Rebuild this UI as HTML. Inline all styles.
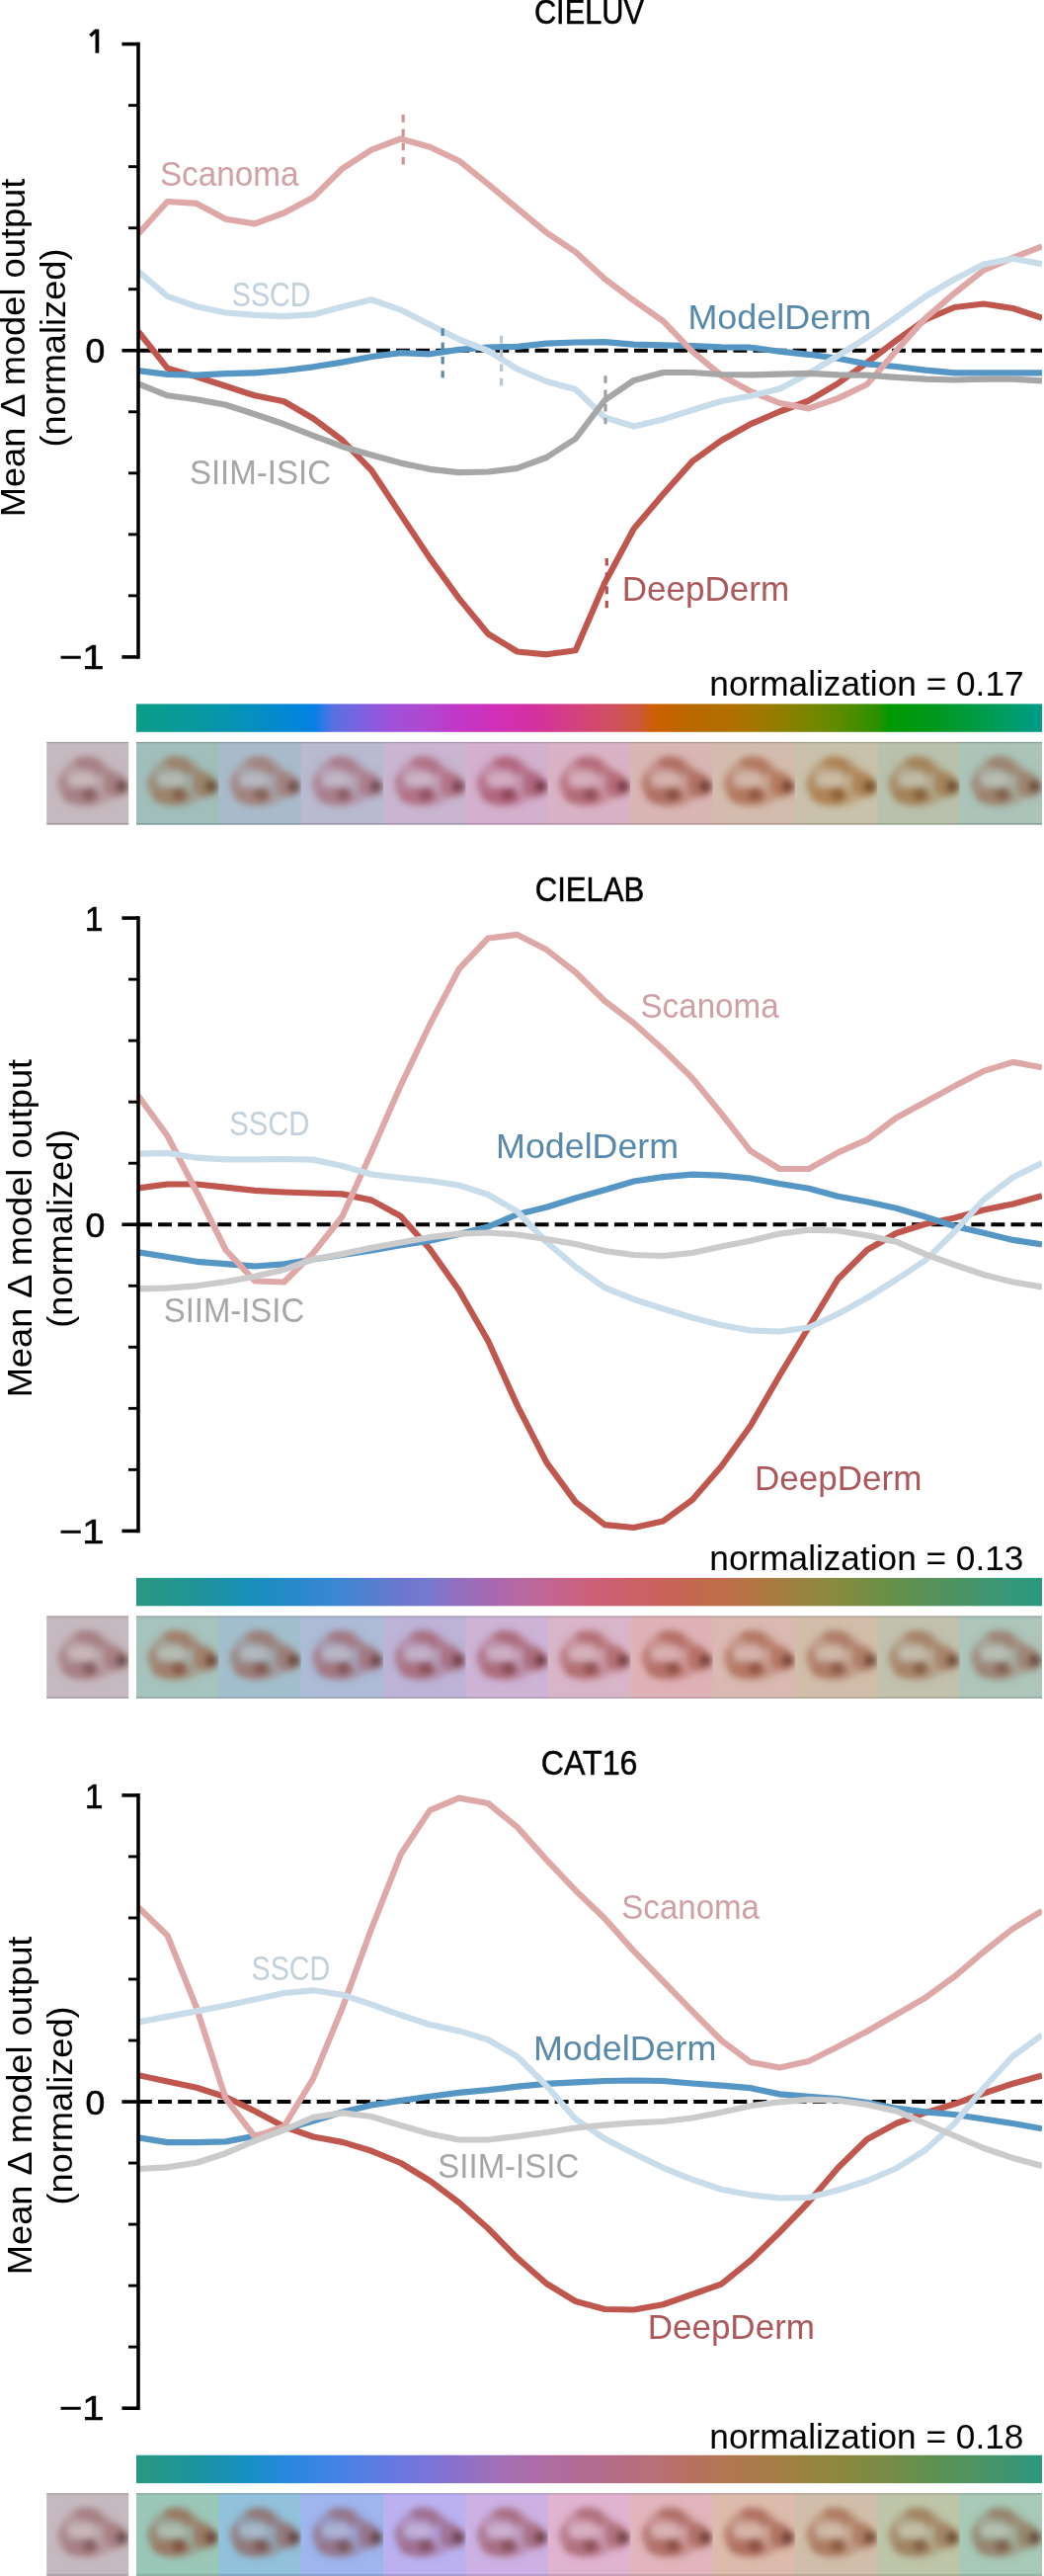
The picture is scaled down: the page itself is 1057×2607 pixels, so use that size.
<!DOCTYPE html>
<html><head><meta charset="utf-8"><style>
html,body{margin:0;padding:0;background:#fff;}
body{width:1057px;height:2607px;overflow:hidden;}
svg{display:block;will-change:transform;}
</style></head><body>
<svg width="1057" height="2607" viewBox="0 0 1057 2607" font-family='"Liberation Sans", sans-serif'>
<defs>
<filter id="bl" x="-20%" y="-20%" width="140%" height="140%"><feGaussianBlur stdDeviation="3.4"/></filter>
<filter id="bl2" x="-20%" y="-20%" width="140%" height="140%"><feGaussianBlur stdDeviation="1.6"/></filter>
<clipPath id="tc"><rect x="0" y="0" width="83" height="83.3"/></clipPath>
<clipPath id="pc"><rect x="140" y="0" width="915" height="2607"/></clipPath>
</defs>
<rect x="0" y="0" width="1057" height="2607" fill="#fff"/>
<defs><linearGradient id="g0" x1="138" y1="0" x2="1055" y2="0" gradientUnits="userSpaceOnUse">
<stop offset="0.0000" stop-color="#0c9c88"/>
<stop offset="0.0676" stop-color="#0898a0"/>
<stop offset="0.1221" stop-color="#0690bc"/>
<stop offset="0.1658" stop-color="#0488d4"/>
<stop offset="0.1963" stop-color="#0680e4"/>
<stop offset="0.2050" stop-color="#2a7ae6"/>
<stop offset="0.2181" stop-color="#5a70e0"/>
<stop offset="0.2508" stop-color="#8060e0"/>
<stop offset="0.2824" stop-color="#a050d8"/>
<stop offset="0.3184" stop-color="#b048d0"/>
<stop offset="0.3511" stop-color="#c038c8"/>
<stop offset="0.3948" stop-color="#d030b8"/>
<stop offset="0.4384" stop-color="#d430a0"/>
<stop offset="0.4820" stop-color="#d44080"/>
<stop offset="0.5256" stop-color="#d05060"/>
<stop offset="0.5562" stop-color="#cc5838"/>
<stop offset="0.5714" stop-color="#cc6000"/>
<stop offset="0.6129" stop-color="#b86800"/>
<stop offset="0.6565" stop-color="#b07000"/>
<stop offset="0.6892" stop-color="#a07800"/>
<stop offset="0.7219" stop-color="#888000"/>
<stop offset="0.7546" stop-color="#708800"/>
<stop offset="0.7874" stop-color="#508c00"/>
<stop offset="0.8201" stop-color="#289000"/>
<stop offset="0.8310" stop-color="#009800"/>
<stop offset="0.8855" stop-color="#009820"/>
<stop offset="0.9400" stop-color="#009c50"/>
<stop offset="1.0000" stop-color="#009c88"/>
</linearGradient></defs>
<text x="540.89" y="23.50" font-size="35" fill="#000" stroke="#000" stroke-width="0.5" textLength="111.10" lengthAdjust="spacingAndGlyphs">CIELUV</text>
<line x1="140.0" y1="354.75" x2="1055.0" y2="354.75" stroke="#000" stroke-width="3.9" stroke-dasharray="13.9 6.18"/>
<g clip-path="url(#pc)">
<polyline points="140.00,335.50 169.52,372.60 199.03,381.30 228.55,390.80 258.06,400.30 287.58,406.30 317.10,423.50 346.61,445.60 376.13,476.00 405.65,520.60 435.16,564.90 464.68,605.60 494.19,641.50 523.71,659.50 553.23,662.30 582.74,658.30 612.26,590.00 641.77,535.00 671.29,500.30 700.81,467.10 730.32,445.80 759.84,429.20 789.35,416.50 818.87,405.50 848.39,388.10 877.90,367.00 907.42,344.50 936.94,323.50 966.45,311.00 995.97,307.50 1025.48,312.00 1055.00,321.80" fill="none" stroke="#c0574f" stroke-width="6.2" stroke-linejoin="round" stroke-linecap="butt"/>
<polyline points="140.00,375.00 169.52,378.90 199.03,379.70 228.55,378.10 258.06,377.30 287.58,375.00 317.10,371.30 346.61,366.60 376.13,361.00 405.65,357.10 435.16,358.30 464.68,353.90 494.19,351.50 523.71,350.80 553.23,347.60 582.74,346.50 612.26,346.20 641.77,348.60 671.29,349.40 700.81,350.20 730.32,351.30 759.84,351.70 789.35,355.70 818.87,358.80 848.39,362.80 877.90,368.40 907.42,371.00 936.94,374.60 966.45,377.30 995.97,377.30 1025.48,377.30 1055.00,377.30" fill="none" stroke="#5596c4" stroke-width="6.2" stroke-linejoin="round" stroke-linecap="butt"/>
<polyline points="140.00,236.70 169.52,204.00 199.03,205.90 228.55,221.70 258.06,226.40 287.58,215.50 317.10,199.80 346.61,170.60 376.13,151.60 405.65,140.50 435.16,148.80 464.68,162.70 494.19,186.40 523.71,210.90 553.23,235.40 582.74,255.00 612.26,282.20 641.77,304.30 671.29,324.90 700.81,355.70 730.32,380.00 759.84,396.00 789.35,408.00 818.87,413.40 848.39,403.10 877.90,389.00 907.42,355.00 936.94,322.00 966.45,296.70 995.97,273.40 1025.48,260.90 1055.00,249.30" fill="none" stroke="#dfa8a8" stroke-width="6.2" stroke-linejoin="round" stroke-linecap="butt"/>
<polyline points="140.00,274.60 169.52,299.90 199.03,310.20 228.55,316.50 258.06,318.90 287.58,320.20 317.10,318.40 346.61,310.50 376.13,303.30 405.65,313.60 435.16,328.60 464.68,343.50 494.19,355.00 523.71,373.50 553.23,386.00 582.74,394.00 612.26,422.50 641.77,431.50 671.29,424.40 700.81,415.00 730.32,406.00 759.84,400.70 789.35,393.60 818.87,378.00 848.39,360.00 877.90,341.50 907.42,321.00 936.94,300.00 966.45,282.50 995.97,267.50 1025.48,261.80 1055.00,267.20" fill="none" stroke="#c9dcea" stroke-width="6.2" stroke-linejoin="round" stroke-linecap="butt"/>
<polyline points="140.00,388.40 169.52,400.30 199.03,404.20 228.55,409.80 258.06,419.20 287.58,429.30 317.10,440.80 346.61,451.90 376.13,460.50 405.65,468.60 435.16,474.80 464.68,478.20 494.19,477.50 523.71,473.80 553.23,463.00 582.74,444.00 612.26,405.00 641.77,384.90 671.29,377.00 700.81,377.00 730.32,379.00 759.84,379.40 789.35,378.60 818.87,377.80 848.39,379.40 877.90,379.60 907.42,381.80 936.94,383.60 966.45,384.50 995.97,383.60 1025.48,383.60 1055.00,385.40" fill="none" stroke="#a6a6a6" stroke-width="6.2" stroke-linejoin="round" stroke-linecap="butt"/>
</g>
<line x1="140" y1="42.80" x2="140" y2="666.70" stroke="#000" stroke-width="3.6"/>
<line x1="123.4" y1="44.60" x2="140" y2="44.60" stroke="#000" stroke-width="3.6"/>
<line x1="123.4" y1="354.75" x2="140" y2="354.75" stroke="#000" stroke-width="3.6"/>
<line x1="123.4" y1="664.90" x2="140" y2="664.90" stroke="#000" stroke-width="3.6"/>
<line x1="130" y1="292.72" x2="140" y2="292.72" stroke="#000" stroke-width="2.9"/>
<line x1="130" y1="230.69" x2="140" y2="230.69" stroke="#000" stroke-width="2.9"/>
<line x1="130" y1="168.66" x2="140" y2="168.66" stroke="#000" stroke-width="2.9"/>
<line x1="130" y1="106.63" x2="140" y2="106.63" stroke="#000" stroke-width="2.9"/>
<line x1="130" y1="416.78" x2="140" y2="416.78" stroke="#000" stroke-width="2.9"/>
<line x1="130" y1="478.81" x2="140" y2="478.81" stroke="#000" stroke-width="2.9"/>
<line x1="130" y1="540.84" x2="140" y2="540.84" stroke="#000" stroke-width="2.9"/>
<line x1="130" y1="602.87" x2="140" y2="602.87" stroke="#000" stroke-width="2.9"/>
<path d="M98.4,29.6 V53.7" stroke="#000" stroke-width="3.8" fill="none"/>
<path d="M91.4,36.2 L97.6,30.6" stroke="#000" stroke-width="3.4" fill="none"/>
<text x="86.51" y="367.20" font-size="35" fill="#000" stroke="#000" stroke-width="0.6" textLength="19.78" lengthAdjust="spacingAndGlyphs">0</text>
<text x="59.83" y="677.00" font-size="35" fill="#000" stroke="#000" stroke-width="0.6" textLength="45.52" lengthAdjust="spacingAndGlyphs">−1</text>
<text transform="rotate(-90)" x="-523.26" y="25.30" font-size="35" fill="#000" textLength="342.52" lengthAdjust="spacingAndGlyphs">Mean Δ model output</text>
<text transform="rotate(-90)" x="-452.64" y="66.30" font-size="35" fill="#000" textLength="201.09" lengthAdjust="spacingAndGlyphs">(normalized)</text>
<text x="718.36" y="704.00" font-size="35" fill="#000" stroke="#000" stroke-width="0" textLength="318.21" lengthAdjust="spacingAndGlyphs">normalization = 0.17</text>
<rect x="138" y="712.40" width="917" height="28.4" fill="url(#g0)"/>
<svg x="47.20" y="750.90" width="83.00" height="83.3" viewBox="0 0 83.00 83.3" overflow="hidden">
<rect x="0" y="0" width="84.00" height="84" fill="#c5b9bf"/>
<g filter="url(#bl)">
<path d="M12,44 C10,32 22,18 34,15 C46,12 58,16 64,26 C74,30 84,38 84,46 C84,54 76,58 66,57 C58,64 46,67 34,65 C20,63 13,55 12,44 Z" fill="#9e6f72" opacity="0.38"/>
<ellipse cx="41" cy="21" rx="13" ry="6" transform="rotate(6 41 21)" fill="#9e6f72" opacity="0.62"/>
<ellipse cx="51" cy="28" rx="4" ry="7" fill="#9e6f72" opacity="0.45"/>
<ellipse cx="35" cy="55" rx="19" ry="8.5" fill="#9e6f72" opacity="0.62"/>
<ellipse cx="68" cy="43" rx="11" ry="12" fill="#9e6f72" opacity="0.6"/>
<ellipse cx="17" cy="43" rx="6" ry="10" fill="#9e6f72" opacity="0.4"/>
<ellipse cx="58" cy="30" rx="7" ry="4.5" transform="rotate(35 58 30)" fill="#9e6f72" opacity="0.5"/>
<ellipse cx="43" cy="53" rx="7" ry="6.5" fill="#815b5d" opacity="0.85"/>
<ellipse cx="76" cy="45" rx="6.5" ry="6.5" fill="#6b4b4d" opacity="0.9"/>
<ellipse cx="36" cy="38" rx="15" ry="6.5" fill="#dfd8db" opacity="0.45"/>
<ellipse cx="55" cy="40" rx="2.5" ry="10" fill="#c5b9bf" opacity="0.4"/>
</g>
<rect x="0" y="0" width="84.00" height="1.2" fill="#000" opacity="0.18"/>
<rect x="0" y="82.1" width="84.00" height="1.2" fill="#000" opacity="0.18"/>
</svg>
<svg x="138.00" y="750.90" width="83.96" height="83.3" viewBox="0 0 83.96 83.3" overflow="hidden">
<rect x="0" y="0" width="84.96" height="84" fill="#a1bebb"/>
<g filter="url(#bl)">
<path d="M12,44 C10,32 22,18 34,15 C46,12 58,16 64,26 C74,30 84,38 84,46 C84,54 76,58 66,57 C58,64 46,67 34,65 C20,63 13,55 12,44 Z" fill="#9a7154" opacity="0.38"/>
<ellipse cx="41" cy="21" rx="13" ry="6" transform="rotate(6 41 21)" fill="#9a7154" opacity="0.62"/>
<ellipse cx="51" cy="28" rx="4" ry="7" fill="#9a7154" opacity="0.45"/>
<ellipse cx="35" cy="55" rx="19" ry="8.5" fill="#9a7154" opacity="0.62"/>
<ellipse cx="68" cy="43" rx="11" ry="12" fill="#9a7154" opacity="0.6"/>
<ellipse cx="17" cy="43" rx="6" ry="10" fill="#9a7154" opacity="0.4"/>
<ellipse cx="58" cy="30" rx="7" ry="4.5" transform="rotate(35 58 30)" fill="#9a7154" opacity="0.5"/>
<ellipse cx="43" cy="53" rx="7" ry="6.5" fill="#7e5c44" opacity="0.85"/>
<ellipse cx="76" cy="45" rx="6.5" ry="6.5" fill="#684c39" opacity="0.9"/>
<ellipse cx="36" cy="38" rx="15" ry="6.5" fill="#cbdbd9" opacity="0.45"/>
<ellipse cx="55" cy="40" rx="2.5" ry="10" fill="#a1bebb" opacity="0.4"/>
</g>
<rect x="0" y="0" width="84.96" height="1.2" fill="#000" opacity="0.18"/>
<rect x="0" y="82.1" width="84.96" height="1.2" fill="#000" opacity="0.18"/>
</svg>
<svg x="221.36" y="750.90" width="83.96" height="83.3" viewBox="0 0 83.96 83.3" overflow="hidden">
<rect x="0" y="0" width="84.96" height="84" fill="#a9bbcb"/>
<g filter="url(#bl)">
<path d="M12,44 C10,32 22,18 34,15 C46,12 58,16 64,26 C74,30 84,38 84,46 C84,54 76,58 66,57 C58,64 46,67 34,65 C20,63 13,55 12,44 Z" fill="#a07267" opacity="0.38"/>
<ellipse cx="41" cy="21" rx="13" ry="6" transform="rotate(6 41 21)" fill="#a07267" opacity="0.62"/>
<ellipse cx="51" cy="28" rx="4" ry="7" fill="#a07267" opacity="0.45"/>
<ellipse cx="35" cy="55" rx="19" ry="8.5" fill="#a07267" opacity="0.62"/>
<ellipse cx="68" cy="43" rx="11" ry="12" fill="#a07267" opacity="0.6"/>
<ellipse cx="17" cy="43" rx="6" ry="10" fill="#a07267" opacity="0.4"/>
<ellipse cx="58" cy="30" rx="7" ry="4.5" transform="rotate(35 58 30)" fill="#a07267" opacity="0.5"/>
<ellipse cx="43" cy="53" rx="7" ry="6.5" fill="#835d54" opacity="0.85"/>
<ellipse cx="76" cy="45" rx="6.5" ry="6.5" fill="#6c4d46" opacity="0.9"/>
<ellipse cx="36" cy="38" rx="15" ry="6.5" fill="#cfd9e2" opacity="0.45"/>
<ellipse cx="55" cy="40" rx="2.5" ry="10" fill="#a9bbcb" opacity="0.4"/>
</g>
<rect x="0" y="0" width="84.96" height="1.2" fill="#000" opacity="0.18"/>
<rect x="0" y="82.1" width="84.96" height="1.2" fill="#000" opacity="0.18"/>
</svg>
<svg x="304.73" y="750.90" width="83.96" height="83.3" viewBox="0 0 83.96 83.3" overflow="hidden">
<rect x="0" y="0" width="84.96" height="84" fill="#b9b9cf"/>
<g filter="url(#bl)">
<path d="M12,44 C10,32 22,18 34,15 C46,12 58,16 64,26 C74,30 84,38 84,46 C84,54 76,58 66,57 C58,64 46,67 34,65 C20,63 13,55 12,44 Z" fill="#a76c78" opacity="0.38"/>
<ellipse cx="41" cy="21" rx="13" ry="6" transform="rotate(6 41 21)" fill="#a76c78" opacity="0.62"/>
<ellipse cx="51" cy="28" rx="4" ry="7" fill="#a76c78" opacity="0.45"/>
<ellipse cx="35" cy="55" rx="19" ry="8.5" fill="#a76c78" opacity="0.62"/>
<ellipse cx="68" cy="43" rx="11" ry="12" fill="#a76c78" opacity="0.6"/>
<ellipse cx="17" cy="43" rx="6" ry="10" fill="#a76c78" opacity="0.4"/>
<ellipse cx="58" cy="30" rx="7" ry="4.5" transform="rotate(35 58 30)" fill="#a76c78" opacity="0.5"/>
<ellipse cx="43" cy="53" rx="7" ry="6.5" fill="#885862" opacity="0.85"/>
<ellipse cx="76" cy="45" rx="6.5" ry="6.5" fill="#714951" opacity="0.9"/>
<ellipse cx="36" cy="38" rx="15" ry="6.5" fill="#d8d8e4" opacity="0.45"/>
<ellipse cx="55" cy="40" rx="2.5" ry="10" fill="#b9b9cf" opacity="0.4"/>
</g>
<rect x="0" y="0" width="84.96" height="1.2" fill="#000" opacity="0.18"/>
<rect x="0" y="82.1" width="84.96" height="1.2" fill="#000" opacity="0.18"/>
</svg>
<svg x="388.09" y="750.90" width="83.96" height="83.3" viewBox="0 0 83.96 83.3" overflow="hidden">
<rect x="0" y="0" width="84.96" height="84" fill="#c9b5d0"/>
<g filter="url(#bl)">
<path d="M12,44 C10,32 22,18 34,15 C46,12 58,16 64,26 C74,30 84,38 84,46 C84,54 76,58 66,57 C58,64 46,67 34,65 C20,63 13,55 12,44 Z" fill="#ab5f71" opacity="0.38"/>
<ellipse cx="41" cy="21" rx="13" ry="6" transform="rotate(6 41 21)" fill="#ab5f71" opacity="0.62"/>
<ellipse cx="51" cy="28" rx="4" ry="7" fill="#ab5f71" opacity="0.45"/>
<ellipse cx="35" cy="55" rx="19" ry="8.5" fill="#ab5f71" opacity="0.62"/>
<ellipse cx="68" cy="43" rx="11" ry="12" fill="#ab5f71" opacity="0.6"/>
<ellipse cx="17" cy="43" rx="6" ry="10" fill="#ab5f71" opacity="0.4"/>
<ellipse cx="58" cy="30" rx="7" ry="4.5" transform="rotate(35 58 30)" fill="#ab5f71" opacity="0.5"/>
<ellipse cx="43" cy="53" rx="7" ry="6.5" fill="#8c4d5c" opacity="0.85"/>
<ellipse cx="76" cy="45" rx="6.5" ry="6.5" fill="#74404c" opacity="0.9"/>
<ellipse cx="36" cy="38" rx="15" ry="6.5" fill="#e1d6e5" opacity="0.45"/>
<ellipse cx="55" cy="40" rx="2.5" ry="10" fill="#c9b5d0" opacity="0.4"/>
</g>
<rect x="0" y="0" width="84.96" height="1.2" fill="#000" opacity="0.18"/>
<rect x="0" y="82.1" width="84.96" height="1.2" fill="#000" opacity="0.18"/>
</svg>
<svg x="471.45" y="750.90" width="83.96" height="83.3" viewBox="0 0 83.96 83.3" overflow="hidden">
<rect x="0" y="0" width="84.96" height="84" fill="#d3b0cd"/>
<g filter="url(#bl)">
<path d="M12,44 C10,32 22,18 34,15 C46,12 58,16 64,26 C74,30 84,38 84,46 C84,54 76,58 66,57 C58,64 46,67 34,65 C20,63 13,55 12,44 Z" fill="#a95169" opacity="0.38"/>
<ellipse cx="41" cy="21" rx="13" ry="6" transform="rotate(6 41 21)" fill="#a95169" opacity="0.62"/>
<ellipse cx="51" cy="28" rx="4" ry="7" fill="#a95169" opacity="0.45"/>
<ellipse cx="35" cy="55" rx="19" ry="8.5" fill="#a95169" opacity="0.62"/>
<ellipse cx="68" cy="43" rx="11" ry="12" fill="#a95169" opacity="0.6"/>
<ellipse cx="17" cy="43" rx="6" ry="10" fill="#a95169" opacity="0.4"/>
<ellipse cx="58" cy="30" rx="7" ry="4.5" transform="rotate(35 58 30)" fill="#a95169" opacity="0.5"/>
<ellipse cx="43" cy="53" rx="7" ry="6.5" fill="#8a4256" opacity="0.85"/>
<ellipse cx="76" cy="45" rx="6.5" ry="6.5" fill="#723747" opacity="0.9"/>
<ellipse cx="36" cy="38" rx="15" ry="6.5" fill="#e6d3e3" opacity="0.45"/>
<ellipse cx="55" cy="40" rx="2.5" ry="10" fill="#d3b0cd" opacity="0.4"/>
</g>
<rect x="0" y="0" width="84.96" height="1.2" fill="#000" opacity="0.18"/>
<rect x="0" y="82.1" width="84.96" height="1.2" fill="#000" opacity="0.18"/>
</svg>
<svg x="554.82" y="750.90" width="83.96" height="83.3" viewBox="0 0 83.96 83.3" overflow="hidden">
<rect x="0" y="0" width="84.96" height="84" fill="#d9b3c5"/>
<g filter="url(#bl)">
<path d="M12,44 C10,32 22,18 34,15 C46,12 58,16 64,26 C74,30 84,38 84,46 C84,54 76,58 66,57 C58,64 46,67 34,65 C20,63 13,55 12,44 Z" fill="#aa5864" opacity="0.38"/>
<ellipse cx="41" cy="21" rx="13" ry="6" transform="rotate(6 41 21)" fill="#aa5864" opacity="0.62"/>
<ellipse cx="51" cy="28" rx="4" ry="7" fill="#aa5864" opacity="0.45"/>
<ellipse cx="35" cy="55" rx="19" ry="8.5" fill="#aa5864" opacity="0.62"/>
<ellipse cx="68" cy="43" rx="11" ry="12" fill="#aa5864" opacity="0.6"/>
<ellipse cx="17" cy="43" rx="6" ry="10" fill="#aa5864" opacity="0.4"/>
<ellipse cx="58" cy="30" rx="7" ry="4.5" transform="rotate(35 58 30)" fill="#aa5864" opacity="0.5"/>
<ellipse cx="43" cy="53" rx="7" ry="6.5" fill="#8b4852" opacity="0.85"/>
<ellipse cx="76" cy="45" rx="6.5" ry="6.5" fill="#733b44" opacity="0.9"/>
<ellipse cx="36" cy="38" rx="15" ry="6.5" fill="#ead5df" opacity="0.45"/>
<ellipse cx="55" cy="40" rx="2.5" ry="10" fill="#d9b3c5" opacity="0.4"/>
</g>
<rect x="0" y="0" width="84.96" height="1.2" fill="#000" opacity="0.18"/>
<rect x="0" y="82.1" width="84.96" height="1.2" fill="#000" opacity="0.18"/>
</svg>
<svg x="638.18" y="750.90" width="83.96" height="83.3" viewBox="0 0 83.96 83.3" overflow="hidden">
<rect x="0" y="0" width="84.96" height="84" fill="#d9b5b3"/>
<g filter="url(#bl)">
<path d="M12,44 C10,32 22,18 34,15 C46,12 58,16 64,26 C74,30 84,38 84,46 C84,54 76,58 66,57 C58,64 46,67 34,65 C20,63 13,55 12,44 Z" fill="#a35d4c" opacity="0.38"/>
<ellipse cx="41" cy="21" rx="13" ry="6" transform="rotate(6 41 21)" fill="#a35d4c" opacity="0.62"/>
<ellipse cx="51" cy="28" rx="4" ry="7" fill="#a35d4c" opacity="0.45"/>
<ellipse cx="35" cy="55" rx="19" ry="8.5" fill="#a35d4c" opacity="0.62"/>
<ellipse cx="68" cy="43" rx="11" ry="12" fill="#a35d4c" opacity="0.6"/>
<ellipse cx="17" cy="43" rx="6" ry="10" fill="#a35d4c" opacity="0.4"/>
<ellipse cx="58" cy="30" rx="7" ry="4.5" transform="rotate(35 58 30)" fill="#a35d4c" opacity="0.5"/>
<ellipse cx="43" cy="53" rx="7" ry="6.5" fill="#854c3e" opacity="0.85"/>
<ellipse cx="76" cy="45" rx="6.5" ry="6.5" fill="#6e3f33" opacity="0.9"/>
<ellipse cx="36" cy="38" rx="15" ry="6.5" fill="#ead6d5" opacity="0.45"/>
<ellipse cx="55" cy="40" rx="2.5" ry="10" fill="#d9b5b3" opacity="0.4"/>
</g>
<rect x="0" y="0" width="84.96" height="1.2" fill="#000" opacity="0.18"/>
<rect x="0" y="82.1" width="84.96" height="1.2" fill="#000" opacity="0.18"/>
</svg>
<svg x="721.55" y="750.90" width="83.96" height="83.3" viewBox="0 0 83.96 83.3" overflow="hidden">
<rect x="0" y="0" width="84.96" height="84" fill="#d3bcae"/>
<g filter="url(#bl)">
<path d="M12,44 C10,32 22,18 34,15 C46,12 58,16 64,26 C74,30 84,38 84,46 C84,54 76,58 66,57 C58,64 46,67 34,65 C20,63 13,55 12,44 Z" fill="#ab6548" opacity="0.38"/>
<ellipse cx="41" cy="21" rx="13" ry="6" transform="rotate(6 41 21)" fill="#ab6548" opacity="0.62"/>
<ellipse cx="51" cy="28" rx="4" ry="7" fill="#ab6548" opacity="0.45"/>
<ellipse cx="35" cy="55" rx="19" ry="8.5" fill="#ab6548" opacity="0.62"/>
<ellipse cx="68" cy="43" rx="11" ry="12" fill="#ab6548" opacity="0.6"/>
<ellipse cx="17" cy="43" rx="6" ry="10" fill="#ab6548" opacity="0.4"/>
<ellipse cx="58" cy="30" rx="7" ry="4.5" transform="rotate(35 58 30)" fill="#ab6548" opacity="0.5"/>
<ellipse cx="43" cy="53" rx="7" ry="6.5" fill="#8c523b" opacity="0.85"/>
<ellipse cx="76" cy="45" rx="6.5" ry="6.5" fill="#744430" opacity="0.9"/>
<ellipse cx="36" cy="38" rx="15" ry="6.5" fill="#e6dad2" opacity="0.45"/>
<ellipse cx="55" cy="40" rx="2.5" ry="10" fill="#d3bcae" opacity="0.4"/>
</g>
<rect x="0" y="0" width="84.96" height="1.2" fill="#000" opacity="0.18"/>
<rect x="0" y="82.1" width="84.96" height="1.2" fill="#000" opacity="0.18"/>
</svg>
<svg x="804.91" y="750.90" width="83.96" height="83.3" viewBox="0 0 83.96 83.3" overflow="hidden">
<rect x="0" y="0" width="84.96" height="84" fill="#c9c1ab"/>
<g filter="url(#bl)">
<path d="M12,44 C10,32 22,18 34,15 C46,12 58,16 64,26 C74,30 84,38 84,46 C84,54 76,58 66,57 C58,64 46,67 34,65 C20,63 13,55 12,44 Z" fill="#a6713d" opacity="0.38"/>
<ellipse cx="41" cy="21" rx="13" ry="6" transform="rotate(6 41 21)" fill="#a6713d" opacity="0.62"/>
<ellipse cx="51" cy="28" rx="4" ry="7" fill="#a6713d" opacity="0.45"/>
<ellipse cx="35" cy="55" rx="19" ry="8.5" fill="#a6713d" opacity="0.62"/>
<ellipse cx="68" cy="43" rx="11" ry="12" fill="#a6713d" opacity="0.6"/>
<ellipse cx="17" cy="43" rx="6" ry="10" fill="#a6713d" opacity="0.4"/>
<ellipse cx="58" cy="30" rx="7" ry="4.5" transform="rotate(35 58 30)" fill="#a6713d" opacity="0.5"/>
<ellipse cx="43" cy="53" rx="7" ry="6.5" fill="#885c32" opacity="0.85"/>
<ellipse cx="76" cy="45" rx="6.5" ry="6.5" fill="#704c29" opacity="0.9"/>
<ellipse cx="36" cy="38" rx="15" ry="6.5" fill="#e1dcd0" opacity="0.45"/>
<ellipse cx="55" cy="40" rx="2.5" ry="10" fill="#c9c1ab" opacity="0.4"/>
</g>
<rect x="0" y="0" width="84.96" height="1.2" fill="#000" opacity="0.18"/>
<rect x="0" y="82.1" width="84.96" height="1.2" fill="#000" opacity="0.18"/>
</svg>
<svg x="888.27" y="750.90" width="83.96" height="83.3" viewBox="0 0 83.96 83.3" overflow="hidden">
<rect x="0" y="0" width="84.96" height="84" fill="#b9c1ad"/>
<g filter="url(#bl)">
<path d="M12,44 C10,32 22,18 34,15 C46,12 58,16 64,26 C74,30 84,38 84,46 C84,54 76,58 66,57 C58,64 46,67 34,65 C20,63 13,55 12,44 Z" fill="#9f7142" opacity="0.38"/>
<ellipse cx="41" cy="21" rx="13" ry="6" transform="rotate(6 41 21)" fill="#9f7142" opacity="0.62"/>
<ellipse cx="51" cy="28" rx="4" ry="7" fill="#9f7142" opacity="0.45"/>
<ellipse cx="35" cy="55" rx="19" ry="8.5" fill="#9f7142" opacity="0.62"/>
<ellipse cx="68" cy="43" rx="11" ry="12" fill="#9f7142" opacity="0.6"/>
<ellipse cx="17" cy="43" rx="6" ry="10" fill="#9f7142" opacity="0.4"/>
<ellipse cx="58" cy="30" rx="7" ry="4.5" transform="rotate(35 58 30)" fill="#9f7142" opacity="0.5"/>
<ellipse cx="43" cy="53" rx="7" ry="6.5" fill="#825c36" opacity="0.85"/>
<ellipse cx="76" cy="45" rx="6.5" ry="6.5" fill="#6c4c2c" opacity="0.9"/>
<ellipse cx="36" cy="38" rx="15" ry="6.5" fill="#d8dcd1" opacity="0.45"/>
<ellipse cx="55" cy="40" rx="2.5" ry="10" fill="#b9c1ad" opacity="0.4"/>
</g>
<rect x="0" y="0" width="84.96" height="1.2" fill="#000" opacity="0.18"/>
<rect x="0" y="82.1" width="84.96" height="1.2" fill="#000" opacity="0.18"/>
</svg>
<svg x="971.64" y="750.90" width="83.36" height="83.3" viewBox="0 0 83.36 83.3" overflow="hidden">
<rect x="0" y="0" width="84.36" height="84" fill="#abc3b9"/>
<g filter="url(#bl)">
<path d="M12,44 C10,32 22,18 34,15 C46,12 58,16 64,26 C74,30 84,38 84,46 C84,54 76,58 66,57 C58,64 46,67 34,65 C20,63 13,55 12,44 Z" fill="#9a715a" opacity="0.38"/>
<ellipse cx="41" cy="21" rx="13" ry="6" transform="rotate(6 41 21)" fill="#9a715a" opacity="0.62"/>
<ellipse cx="51" cy="28" rx="4" ry="7" fill="#9a715a" opacity="0.45"/>
<ellipse cx="35" cy="55" rx="19" ry="8.5" fill="#9a715a" opacity="0.62"/>
<ellipse cx="68" cy="43" rx="11" ry="12" fill="#9a715a" opacity="0.6"/>
<ellipse cx="17" cy="43" rx="6" ry="10" fill="#9a715a" opacity="0.4"/>
<ellipse cx="58" cy="30" rx="7" ry="4.5" transform="rotate(35 58 30)" fill="#9a715a" opacity="0.5"/>
<ellipse cx="43" cy="53" rx="7" ry="6.5" fill="#7e5c49" opacity="0.85"/>
<ellipse cx="76" cy="45" rx="6.5" ry="6.5" fill="#684c3d" opacity="0.9"/>
<ellipse cx="36" cy="38" rx="15" ry="6.5" fill="#d0ded8" opacity="0.45"/>
<ellipse cx="55" cy="40" rx="2.5" ry="10" fill="#abc3b9" opacity="0.4"/>
</g>
<rect x="0" y="0" width="84.36" height="1.2" fill="#000" opacity="0.18"/>
<rect x="0" y="82.1" width="84.36" height="1.2" fill="#000" opacity="0.18"/>
</svg>
<defs><linearGradient id="g1" x1="138" y1="0" x2="1055" y2="0" gradientUnits="userSpaceOnUse">
<stop offset="0.0000" stop-color="#2a9880"/>
<stop offset="0.0676" stop-color="#209498"/>
<stop offset="0.1221" stop-color="#1890b8"/>
<stop offset="0.1767" stop-color="#2888cc"/>
<stop offset="0.2148" stop-color="#3888d4"/>
<stop offset="0.2530" stop-color="#5080d0"/>
<stop offset="0.2857" stop-color="#6878cc"/>
<stop offset="0.3239" stop-color="#7878d0"/>
<stop offset="0.3511" stop-color="#9070c0"/>
<stop offset="0.3948" stop-color="#a868b0"/>
<stop offset="0.4275" stop-color="#b868a0"/>
<stop offset="0.4602" stop-color="#c46490"/>
<stop offset="0.5038" stop-color="#cc6078"/>
<stop offset="0.5474" stop-color="#cc6068"/>
<stop offset="0.5911" stop-color="#c86458"/>
<stop offset="0.6347" stop-color="#c06c48"/>
<stop offset="0.6619" stop-color="#bc7048"/>
<stop offset="0.6892" stop-color="#b07840"/>
<stop offset="0.7219" stop-color="#a08040"/>
<stop offset="0.7546" stop-color="#908840"/>
<stop offset="0.7874" stop-color="#808c40"/>
<stop offset="0.8310" stop-color="#689048"/>
<stop offset="0.8746" stop-color="#589058"/>
<stop offset="0.9182" stop-color="#489468"/>
<stop offset="0.9618" stop-color="#389878"/>
<stop offset="1.0000" stop-color="#2a9880"/>
</linearGradient></defs>
<text x="541.67" y="911.55" font-size="35" fill="#000" stroke="#000" stroke-width="0.5" textLength="110.72" lengthAdjust="spacingAndGlyphs">CIELAB</text>
<line x1="140.0" y1="1239.25" x2="1055.0" y2="1239.25" stroke="#000" stroke-width="3.9" stroke-dasharray="13.9 6.18"/>
<g clip-path="url(#pc)">
<polyline points="140.00,1202.50 169.52,1198.50 199.03,1198.50 228.55,1201.70 258.06,1204.90 287.58,1206.50 317.10,1207.50 346.61,1208.40 376.13,1214.60 405.65,1230.70 435.16,1264.00 464.68,1305.70 494.19,1357.00 523.71,1422.40 553.23,1479.90 582.74,1520.10 612.26,1543.10 641.77,1546.00 671.29,1539.50 700.81,1518.00 730.32,1484.00 759.84,1443.00 789.35,1392.00 818.87,1343.00 848.39,1294.50 877.90,1265.00 907.42,1248.00 936.94,1238.80 966.45,1232.50 995.97,1224.50 1025.48,1218.50 1055.00,1210.20" fill="none" stroke="#c0574f" stroke-width="6.2" stroke-linejoin="round" stroke-linecap="butt"/>
<polyline points="140.00,1267.30 169.52,1272.00 199.03,1276.80 228.55,1279.10 258.06,1281.50 287.58,1279.40 317.10,1274.50 346.61,1270.00 376.13,1265.50 405.65,1260.20 435.16,1255.70 464.68,1249.00 494.19,1241.50 523.71,1229.00 553.23,1221.80 582.74,1212.50 612.26,1204.20 641.77,1195.50 671.29,1191.10 700.81,1188.70 730.32,1189.70 759.84,1192.50 789.35,1198.00 818.87,1202.80 848.39,1210.70 877.90,1216.20 907.42,1222.70 936.94,1231.50 966.45,1241.00 995.97,1247.80 1025.48,1254.90 1055.00,1259.40" fill="none" stroke="#5596c4" stroke-width="6.2" stroke-linejoin="round" stroke-linecap="butt"/>
<polyline points="140.00,1109.00 169.52,1149.50 199.03,1206.00 228.55,1265.00 258.06,1296.50 287.58,1297.50 317.10,1268.20 346.61,1231.00 376.13,1166.00 405.65,1098.60 435.16,1037.00 464.68,980.70 494.19,949.50 523.71,945.90 553.23,961.10 582.74,984.00 612.26,1013.00 641.77,1035.50 671.29,1062.00 700.81,1091.00 730.32,1127.00 759.84,1164.90 789.35,1183.00 818.87,1183.00 848.39,1166.40 877.90,1153.40 907.42,1131.30 936.94,1115.20 966.45,1099.10 995.97,1083.90 1025.48,1074.90 1055.00,1080.30" fill="none" stroke="#dfa8a8" stroke-width="6.2" stroke-linejoin="round" stroke-linecap="butt"/>
<polyline points="140.00,1167.70 169.52,1166.90 199.03,1171.70 228.55,1173.30 258.06,1173.30 287.58,1173.00 317.10,1173.60 346.61,1180.00 376.13,1188.50 405.65,1192.00 435.16,1195.00 464.68,1199.50 494.19,1209.00 523.71,1226.00 553.23,1257.00 582.74,1282.00 612.26,1303.20 641.77,1315.00 671.29,1324.50 700.81,1333.50 730.32,1341.00 759.84,1346.50 789.35,1347.50 818.87,1343.50 848.39,1329.70 877.90,1313.50 907.42,1295.00 936.94,1275.50 966.45,1246.50 995.97,1214.00 1025.48,1191.50 1055.00,1177.00" fill="none" stroke="#c9dcea" stroke-width="6.2" stroke-linejoin="round" stroke-linecap="butt"/>
<polyline points="140.00,1304.40 169.52,1303.60 199.03,1301.30 228.55,1297.30 258.06,1291.80 287.58,1284.90 317.10,1274.50 346.61,1269.10 376.13,1262.90 405.65,1257.50 435.16,1252.10 464.68,1248.60 494.19,1247.50 523.71,1249.50 553.23,1254.00 582.74,1259.00 612.26,1266.00 641.77,1270.00 671.29,1271.00 700.81,1268.00 730.32,1261.50 759.84,1255.70 789.35,1248.60 818.87,1244.70 848.39,1245.50 877.90,1250.30 907.42,1256.70 936.94,1269.30 966.45,1280.00 995.97,1290.00 1025.48,1297.50 1055.00,1302.50" fill="none" stroke="#cbcbcb" stroke-width="6.2" stroke-linejoin="round" stroke-linecap="butt"/>
</g>
<line x1="140" y1="927.30" x2="140" y2="1551.20" stroke="#000" stroke-width="3.6"/>
<line x1="123.4" y1="929.10" x2="140" y2="929.10" stroke="#000" stroke-width="3.6"/>
<line x1="123.4" y1="1239.25" x2="140" y2="1239.25" stroke="#000" stroke-width="3.6"/>
<line x1="123.4" y1="1549.40" x2="140" y2="1549.40" stroke="#000" stroke-width="3.6"/>
<line x1="130" y1="1177.22" x2="140" y2="1177.22" stroke="#000" stroke-width="2.9"/>
<line x1="130" y1="1115.19" x2="140" y2="1115.19" stroke="#000" stroke-width="2.9"/>
<line x1="130" y1="1053.16" x2="140" y2="1053.16" stroke="#000" stroke-width="2.9"/>
<line x1="130" y1="991.13" x2="140" y2="991.13" stroke="#000" stroke-width="2.9"/>
<line x1="130" y1="1301.28" x2="140" y2="1301.28" stroke="#000" stroke-width="2.9"/>
<line x1="130" y1="1363.31" x2="140" y2="1363.31" stroke="#000" stroke-width="2.9"/>
<line x1="130" y1="1425.34" x2="140" y2="1425.34" stroke="#000" stroke-width="2.9"/>
<line x1="130" y1="1487.37" x2="140" y2="1487.37" stroke="#000" stroke-width="2.9"/>
<text x="86.07" y="941.70" font-size="35" fill="#000" stroke="#000" stroke-width="0.6" textLength="18.45" lengthAdjust="spacingAndGlyphs">1</text>
<text x="86.51" y="1251.70" font-size="35" fill="#000" stroke="#000" stroke-width="0.6" textLength="19.78" lengthAdjust="spacingAndGlyphs">0</text>
<text x="59.83" y="1561.50" font-size="35" fill="#000" stroke="#000" stroke-width="0.6" textLength="45.52" lengthAdjust="spacingAndGlyphs">−1</text>
<text transform="rotate(-90)" x="-1414.36" y="31.80" font-size="35" fill="#000" textLength="342.52" lengthAdjust="spacingAndGlyphs">Mean Δ model output</text>
<text transform="rotate(-90)" x="-1343.74" y="72.80" font-size="35" fill="#000" textLength="201.09" lengthAdjust="spacingAndGlyphs">(normalized)</text>
<text x="718.36" y="1589.30" font-size="35" fill="#000" stroke="#000" stroke-width="0" textLength="317.98" lengthAdjust="spacingAndGlyphs">normalization = 0.13</text>
<rect x="138" y="1596.90" width="917" height="28.4" fill="url(#g1)"/>
<svg x="47.20" y="1635.40" width="83.00" height="83.3" viewBox="0 0 83.00 83.3" overflow="hidden">
<rect x="0" y="0" width="84.00" height="84" fill="#c5b9bf"/>
<g filter="url(#bl)">
<path d="M12,44 C10,32 22,18 34,15 C46,12 58,16 64,26 C74,30 84,38 84,46 C84,54 76,58 66,57 C58,64 46,67 34,65 C20,63 13,55 12,44 Z" fill="#9e6f72" opacity="0.38"/>
<ellipse cx="41" cy="21" rx="13" ry="6" transform="rotate(6 41 21)" fill="#9e6f72" opacity="0.62"/>
<ellipse cx="51" cy="28" rx="4" ry="7" fill="#9e6f72" opacity="0.45"/>
<ellipse cx="35" cy="55" rx="19" ry="8.5" fill="#9e6f72" opacity="0.62"/>
<ellipse cx="68" cy="43" rx="11" ry="12" fill="#9e6f72" opacity="0.6"/>
<ellipse cx="17" cy="43" rx="6" ry="10" fill="#9e6f72" opacity="0.4"/>
<ellipse cx="58" cy="30" rx="7" ry="4.5" transform="rotate(35 58 30)" fill="#9e6f72" opacity="0.5"/>
<ellipse cx="43" cy="53" rx="7" ry="6.5" fill="#815b5d" opacity="0.85"/>
<ellipse cx="76" cy="45" rx="6.5" ry="6.5" fill="#6b4b4d" opacity="0.9"/>
<ellipse cx="36" cy="38" rx="15" ry="6.5" fill="#dfd8db" opacity="0.45"/>
<ellipse cx="55" cy="40" rx="2.5" ry="10" fill="#c5b9bf" opacity="0.4"/>
</g>
<rect x="0" y="0" width="84.00" height="1.2" fill="#000" opacity="0.18"/>
<rect x="0" y="82.1" width="84.00" height="1.2" fill="#000" opacity="0.18"/>
</svg>
<svg x="138.00" y="1635.40" width="83.96" height="83.3" viewBox="0 0 83.96 83.3" overflow="hidden">
<rect x="0" y="0" width="84.96" height="84" fill="#a7c3bd"/>
<g filter="url(#bl)">
<path d="M12,44 C10,32 22,18 34,15 C46,12 58,16 64,26 C74,30 84,38 84,46 C84,54 76,58 66,57 C58,64 46,67 34,65 C20,63 13,55 12,44 Z" fill="#9f6a53" opacity="0.38"/>
<ellipse cx="41" cy="21" rx="13" ry="6" transform="rotate(6 41 21)" fill="#9f6a53" opacity="0.62"/>
<ellipse cx="51" cy="28" rx="4" ry="7" fill="#9f6a53" opacity="0.45"/>
<ellipse cx="35" cy="55" rx="19" ry="8.5" fill="#9f6a53" opacity="0.62"/>
<ellipse cx="68" cy="43" rx="11" ry="12" fill="#9f6a53" opacity="0.6"/>
<ellipse cx="17" cy="43" rx="6" ry="10" fill="#9f6a53" opacity="0.4"/>
<ellipse cx="58" cy="30" rx="7" ry="4.5" transform="rotate(35 58 30)" fill="#9f6a53" opacity="0.5"/>
<ellipse cx="43" cy="53" rx="7" ry="6.5" fill="#825644" opacity="0.85"/>
<ellipse cx="76" cy="45" rx="6.5" ry="6.5" fill="#6c4838" opacity="0.9"/>
<ellipse cx="36" cy="38" rx="15" ry="6.5" fill="#cededa" opacity="0.45"/>
<ellipse cx="55" cy="40" rx="2.5" ry="10" fill="#a7c3bd" opacity="0.4"/>
</g>
<rect x="0" y="0" width="84.96" height="1.2" fill="#000" opacity="0.18"/>
<rect x="0" y="82.1" width="84.96" height="1.2" fill="#000" opacity="0.18"/>
</svg>
<svg x="221.36" y="1635.40" width="83.96" height="83.3" viewBox="0 0 83.96 83.3" overflow="hidden">
<rect x="0" y="0" width="84.96" height="84" fill="#a3bfcd"/>
<g filter="url(#bl)">
<path d="M12,44 C10,32 22,18 34,15 C46,12 58,16 64,26 C74,30 84,38 84,46 C84,54 76,58 66,57 C58,64 46,67 34,65 C20,63 13,55 12,44 Z" fill="#996a5f" opacity="0.38"/>
<ellipse cx="41" cy="21" rx="13" ry="6" transform="rotate(6 41 21)" fill="#996a5f" opacity="0.62"/>
<ellipse cx="51" cy="28" rx="4" ry="7" fill="#996a5f" opacity="0.45"/>
<ellipse cx="35" cy="55" rx="19" ry="8.5" fill="#996a5f" opacity="0.62"/>
<ellipse cx="68" cy="43" rx="11" ry="12" fill="#996a5f" opacity="0.6"/>
<ellipse cx="17" cy="43" rx="6" ry="10" fill="#996a5f" opacity="0.4"/>
<ellipse cx="58" cy="30" rx="7" ry="4.5" transform="rotate(35 58 30)" fill="#996a5f" opacity="0.5"/>
<ellipse cx="43" cy="53" rx="7" ry="6.5" fill="#7d564d" opacity="0.85"/>
<ellipse cx="76" cy="45" rx="6.5" ry="6.5" fill="#684840" opacity="0.9"/>
<ellipse cx="36" cy="38" rx="15" ry="6.5" fill="#ccdbe3" opacity="0.45"/>
<ellipse cx="55" cy="40" rx="2.5" ry="10" fill="#a3bfcd" opacity="0.4"/>
</g>
<rect x="0" y="0" width="84.96" height="1.2" fill="#000" opacity="0.18"/>
<rect x="0" y="82.1" width="84.96" height="1.2" fill="#000" opacity="0.18"/>
</svg>
<svg x="304.73" y="1635.40" width="83.96" height="83.3" viewBox="0 0 83.96 83.3" overflow="hidden">
<rect x="0" y="0" width="84.96" height="84" fill="#adbbd7"/>
<g filter="url(#bl)">
<path d="M12,44 C10,32 22,18 34,15 C46,12 58,16 64,26 C74,30 84,38 84,46 C84,54 76,58 66,57 C58,64 46,67 34,65 C20,63 13,55 12,44 Z" fill="#9f656a" opacity="0.38"/>
<ellipse cx="41" cy="21" rx="13" ry="6" transform="rotate(6 41 21)" fill="#9f656a" opacity="0.62"/>
<ellipse cx="51" cy="28" rx="4" ry="7" fill="#9f656a" opacity="0.45"/>
<ellipse cx="35" cy="55" rx="19" ry="8.5" fill="#9f656a" opacity="0.62"/>
<ellipse cx="68" cy="43" rx="11" ry="12" fill="#9f656a" opacity="0.6"/>
<ellipse cx="17" cy="43" rx="6" ry="10" fill="#9f656a" opacity="0.4"/>
<ellipse cx="58" cy="30" rx="7" ry="4.5" transform="rotate(35 58 30)" fill="#9f656a" opacity="0.5"/>
<ellipse cx="43" cy="53" rx="7" ry="6.5" fill="#825256" opacity="0.85"/>
<ellipse cx="76" cy="45" rx="6.5" ry="6.5" fill="#6c4448" opacity="0.9"/>
<ellipse cx="36" cy="38" rx="15" ry="6.5" fill="#d1d9e9" opacity="0.45"/>
<ellipse cx="55" cy="40" rx="2.5" ry="10" fill="#adbbd7" opacity="0.4"/>
</g>
<rect x="0" y="0" width="84.96" height="1.2" fill="#000" opacity="0.18"/>
<rect x="0" y="82.1" width="84.96" height="1.2" fill="#000" opacity="0.18"/>
</svg>
<svg x="388.09" y="1635.40" width="83.96" height="83.3" viewBox="0 0 83.96 83.3" overflow="hidden">
<rect x="0" y="0" width="84.96" height="84" fill="#bdb3d7"/>
<g filter="url(#bl)">
<path d="M12,44 C10,32 22,18 34,15 C46,12 58,16 64,26 C74,30 84,38 84,46 C84,54 76,58 66,57 C58,64 46,67 34,65 C20,63 13,55 12,44 Z" fill="#a45e6a" opacity="0.38"/>
<ellipse cx="41" cy="21" rx="13" ry="6" transform="rotate(6 41 21)" fill="#a45e6a" opacity="0.62"/>
<ellipse cx="51" cy="28" rx="4" ry="7" fill="#a45e6a" opacity="0.45"/>
<ellipse cx="35" cy="55" rx="19" ry="8.5" fill="#a45e6a" opacity="0.62"/>
<ellipse cx="68" cy="43" rx="11" ry="12" fill="#a45e6a" opacity="0.6"/>
<ellipse cx="17" cy="43" rx="6" ry="10" fill="#a45e6a" opacity="0.4"/>
<ellipse cx="58" cy="30" rx="7" ry="4.5" transform="rotate(35 58 30)" fill="#a45e6a" opacity="0.5"/>
<ellipse cx="43" cy="53" rx="7" ry="6.5" fill="#864d56" opacity="0.85"/>
<ellipse cx="76" cy="45" rx="6.5" ry="6.5" fill="#6f3f48" opacity="0.9"/>
<ellipse cx="36" cy="38" rx="15" ry="6.5" fill="#dad5e9" opacity="0.45"/>
<ellipse cx="55" cy="40" rx="2.5" ry="10" fill="#bdb3d7" opacity="0.4"/>
</g>
<rect x="0" y="0" width="84.96" height="1.2" fill="#000" opacity="0.18"/>
<rect x="0" y="82.1" width="84.96" height="1.2" fill="#000" opacity="0.18"/>
</svg>
<svg x="471.45" y="1635.40" width="83.96" height="83.3" viewBox="0 0 83.96 83.3" overflow="hidden">
<rect x="0" y="0" width="84.96" height="84" fill="#cdb3d5"/>
<g filter="url(#bl)">
<path d="M12,44 C10,32 22,18 34,15 C46,12 58,16 64,26 C74,30 84,38 84,46 C84,54 76,58 66,57 C58,64 46,67 34,65 C20,63 13,55 12,44 Z" fill="#a35863" opacity="0.38"/>
<ellipse cx="41" cy="21" rx="13" ry="6" transform="rotate(6 41 21)" fill="#a35863" opacity="0.62"/>
<ellipse cx="51" cy="28" rx="4" ry="7" fill="#a35863" opacity="0.45"/>
<ellipse cx="35" cy="55" rx="19" ry="8.5" fill="#a35863" opacity="0.62"/>
<ellipse cx="68" cy="43" rx="11" ry="12" fill="#a35863" opacity="0.6"/>
<ellipse cx="17" cy="43" rx="6" ry="10" fill="#a35863" opacity="0.4"/>
<ellipse cx="58" cy="30" rx="7" ry="4.5" transform="rotate(35 58 30)" fill="#a35863" opacity="0.5"/>
<ellipse cx="43" cy="53" rx="7" ry="6.5" fill="#854851" opacity="0.85"/>
<ellipse cx="76" cy="45" rx="6.5" ry="6.5" fill="#6e3b43" opacity="0.9"/>
<ellipse cx="36" cy="38" rx="15" ry="6.5" fill="#e3d5e7" opacity="0.45"/>
<ellipse cx="55" cy="40" rx="2.5" ry="10" fill="#cdb3d5" opacity="0.4"/>
</g>
<rect x="0" y="0" width="84.96" height="1.2" fill="#000" opacity="0.18"/>
<rect x="0" y="82.1" width="84.96" height="1.2" fill="#000" opacity="0.18"/>
</svg>
<svg x="554.82" y="1635.40" width="83.96" height="83.3" viewBox="0 0 83.96 83.3" overflow="hidden">
<rect x="0" y="0" width="84.96" height="84" fill="#d9b5c9"/>
<g filter="url(#bl)">
<path d="M12,44 C10,32 22,18 34,15 C46,12 58,16 64,26 C74,30 84,38 84,46 C84,54 76,58 66,57 C58,64 46,67 34,65 C20,63 13,55 12,44 Z" fill="#aa5e5e" opacity="0.38"/>
<ellipse cx="41" cy="21" rx="13" ry="6" transform="rotate(6 41 21)" fill="#aa5e5e" opacity="0.62"/>
<ellipse cx="51" cy="28" rx="4" ry="7" fill="#aa5e5e" opacity="0.45"/>
<ellipse cx="35" cy="55" rx="19" ry="8.5" fill="#aa5e5e" opacity="0.62"/>
<ellipse cx="68" cy="43" rx="11" ry="12" fill="#aa5e5e" opacity="0.6"/>
<ellipse cx="17" cy="43" rx="6" ry="10" fill="#aa5e5e" opacity="0.4"/>
<ellipse cx="58" cy="30" rx="7" ry="4.5" transform="rotate(35 58 30)" fill="#aa5e5e" opacity="0.5"/>
<ellipse cx="43" cy="53" rx="7" ry="6.5" fill="#8b4d4d" opacity="0.85"/>
<ellipse cx="76" cy="45" rx="6.5" ry="6.5" fill="#733f3f" opacity="0.9"/>
<ellipse cx="36" cy="38" rx="15" ry="6.5" fill="#ead6e1" opacity="0.45"/>
<ellipse cx="55" cy="40" rx="2.5" ry="10" fill="#d9b5c9" opacity="0.4"/>
</g>
<rect x="0" y="0" width="84.96" height="1.2" fill="#000" opacity="0.18"/>
<rect x="0" y="82.1" width="84.96" height="1.2" fill="#000" opacity="0.18"/>
</svg>
<svg x="638.18" y="1635.40" width="83.96" height="83.3" viewBox="0 0 83.96 83.3" overflow="hidden">
<rect x="0" y="0" width="84.96" height="84" fill="#dfb2b7"/>
<g filter="url(#bl)">
<path d="M12,44 C10,32 22,18 34,15 C46,12 58,16 64,26 C74,30 84,38 84,46 C84,54 76,58 66,57 C58,64 46,67 34,65 C20,63 13,55 12,44 Z" fill="#aa5e52" opacity="0.38"/>
<ellipse cx="41" cy="21" rx="13" ry="6" transform="rotate(6 41 21)" fill="#aa5e52" opacity="0.62"/>
<ellipse cx="51" cy="28" rx="4" ry="7" fill="#aa5e52" opacity="0.45"/>
<ellipse cx="35" cy="55" rx="19" ry="8.5" fill="#aa5e52" opacity="0.62"/>
<ellipse cx="68" cy="43" rx="11" ry="12" fill="#aa5e52" opacity="0.6"/>
<ellipse cx="17" cy="43" rx="6" ry="10" fill="#aa5e52" opacity="0.4"/>
<ellipse cx="58" cy="30" rx="7" ry="4.5" transform="rotate(35 58 30)" fill="#aa5e52" opacity="0.5"/>
<ellipse cx="43" cy="53" rx="7" ry="6.5" fill="#8b4d43" opacity="0.85"/>
<ellipse cx="76" cy="45" rx="6.5" ry="6.5" fill="#733f37" opacity="0.9"/>
<ellipse cx="36" cy="38" rx="15" ry="6.5" fill="#edd4d7" opacity="0.45"/>
<ellipse cx="55" cy="40" rx="2.5" ry="10" fill="#dfb2b7" opacity="0.4"/>
</g>
<rect x="0" y="0" width="84.96" height="1.2" fill="#000" opacity="0.18"/>
<rect x="0" y="82.1" width="84.96" height="1.2" fill="#000" opacity="0.18"/>
</svg>
<svg x="721.55" y="1635.40" width="83.96" height="83.3" viewBox="0 0 83.96 83.3" overflow="hidden">
<rect x="0" y="0" width="84.96" height="84" fill="#d9b9b1"/>
<g filter="url(#bl)">
<path d="M12,44 C10,32 22,18 34,15 C46,12 58,16 64,26 C74,30 84,38 84,46 C84,54 76,58 66,57 C58,64 46,67 34,65 C20,63 13,55 12,44 Z" fill="#ab654e" opacity="0.38"/>
<ellipse cx="41" cy="21" rx="13" ry="6" transform="rotate(6 41 21)" fill="#ab654e" opacity="0.62"/>
<ellipse cx="51" cy="28" rx="4" ry="7" fill="#ab654e" opacity="0.45"/>
<ellipse cx="35" cy="55" rx="19" ry="8.5" fill="#ab654e" opacity="0.62"/>
<ellipse cx="68" cy="43" rx="11" ry="12" fill="#ab654e" opacity="0.6"/>
<ellipse cx="17" cy="43" rx="6" ry="10" fill="#ab654e" opacity="0.4"/>
<ellipse cx="58" cy="30" rx="7" ry="4.5" transform="rotate(35 58 30)" fill="#ab654e" opacity="0.5"/>
<ellipse cx="43" cy="53" rx="7" ry="6.5" fill="#8c523f" opacity="0.85"/>
<ellipse cx="76" cy="45" rx="6.5" ry="6.5" fill="#744435" opacity="0.9"/>
<ellipse cx="36" cy="38" rx="15" ry="6.5" fill="#ead8d4" opacity="0.45"/>
<ellipse cx="55" cy="40" rx="2.5" ry="10" fill="#d9b9b1" opacity="0.4"/>
</g>
<rect x="0" y="0" width="84.96" height="1.2" fill="#000" opacity="0.18"/>
<rect x="0" y="82.1" width="84.96" height="1.2" fill="#000" opacity="0.18"/>
</svg>
<svg x="804.91" y="1635.40" width="83.96" height="83.3" viewBox="0 0 83.96 83.3" overflow="hidden">
<rect x="0" y="0" width="84.96" height="84" fill="#d1bdaa"/>
<g filter="url(#bl)">
<path d="M12,44 C10,32 22,18 34,15 C46,12 58,16 64,26 C74,30 84,38 84,46 C84,54 76,58 66,57 C58,64 46,67 34,65 C20,63 13,55 12,44 Z" fill="#a56b54" opacity="0.38"/>
<ellipse cx="41" cy="21" rx="13" ry="6" transform="rotate(6 41 21)" fill="#a56b54" opacity="0.62"/>
<ellipse cx="51" cy="28" rx="4" ry="7" fill="#a56b54" opacity="0.45"/>
<ellipse cx="35" cy="55" rx="19" ry="8.5" fill="#a56b54" opacity="0.62"/>
<ellipse cx="68" cy="43" rx="11" ry="12" fill="#a56b54" opacity="0.6"/>
<ellipse cx="17" cy="43" rx="6" ry="10" fill="#a56b54" opacity="0.4"/>
<ellipse cx="58" cy="30" rx="7" ry="4.5" transform="rotate(35 58 30)" fill="#a56b54" opacity="0.5"/>
<ellipse cx="43" cy="53" rx="7" ry="6.5" fill="#875744" opacity="0.85"/>
<ellipse cx="76" cy="45" rx="6.5" ry="6.5" fill="#704839" opacity="0.9"/>
<ellipse cx="36" cy="38" rx="15" ry="6.5" fill="#e5dad0" opacity="0.45"/>
<ellipse cx="55" cy="40" rx="2.5" ry="10" fill="#d1bdaa" opacity="0.4"/>
</g>
<rect x="0" y="0" width="84.96" height="1.2" fill="#000" opacity="0.18"/>
<rect x="0" y="82.1" width="84.96" height="1.2" fill="#000" opacity="0.18"/>
</svg>
<svg x="888.27" y="1635.40" width="83.96" height="83.3" viewBox="0 0 83.96 83.3" overflow="hidden">
<rect x="0" y="0" width="84.96" height="84" fill="#c1c1ae"/>
<g filter="url(#bl)">
<path d="M12,44 C10,32 22,18 34,15 C46,12 58,16 64,26 C74,30 84,38 84,46 C84,54 76,58 66,57 C58,64 46,67 34,65 C20,63 13,55 12,44 Z" fill="#a07255" opacity="0.38"/>
<ellipse cx="41" cy="21" rx="13" ry="6" transform="rotate(6 41 21)" fill="#a07255" opacity="0.62"/>
<ellipse cx="51" cy="28" rx="4" ry="7" fill="#a07255" opacity="0.45"/>
<ellipse cx="35" cy="55" rx="19" ry="8.5" fill="#a07255" opacity="0.62"/>
<ellipse cx="68" cy="43" rx="11" ry="12" fill="#a07255" opacity="0.6"/>
<ellipse cx="17" cy="43" rx="6" ry="10" fill="#a07255" opacity="0.4"/>
<ellipse cx="58" cy="30" rx="7" ry="4.5" transform="rotate(35 58 30)" fill="#a07255" opacity="0.5"/>
<ellipse cx="43" cy="53" rx="7" ry="6.5" fill="#835d45" opacity="0.85"/>
<ellipse cx="76" cy="45" rx="6.5" ry="6.5" fill="#6c4d39" opacity="0.9"/>
<ellipse cx="36" cy="38" rx="15" ry="6.5" fill="#dcdcd2" opacity="0.45"/>
<ellipse cx="55" cy="40" rx="2.5" ry="10" fill="#c1c1ae" opacity="0.4"/>
</g>
<rect x="0" y="0" width="84.96" height="1.2" fill="#000" opacity="0.18"/>
<rect x="0" y="82.1" width="84.96" height="1.2" fill="#000" opacity="0.18"/>
</svg>
<svg x="971.64" y="1635.40" width="83.36" height="83.3" viewBox="0 0 83.36 83.3" overflow="hidden">
<rect x="0" y="0" width="84.36" height="84" fill="#adc5bb"/>
<g filter="url(#bl)">
<path d="M12,44 C10,32 22,18 34,15 C46,12 58,16 64,26 C74,30 84,38 84,46 C84,54 76,58 66,57 C58,64 46,67 34,65 C20,63 13,55 12,44 Z" fill="#9a7260" opacity="0.38"/>
<ellipse cx="41" cy="21" rx="13" ry="6" transform="rotate(6 41 21)" fill="#9a7260" opacity="0.62"/>
<ellipse cx="51" cy="28" rx="4" ry="7" fill="#9a7260" opacity="0.45"/>
<ellipse cx="35" cy="55" rx="19" ry="8.5" fill="#9a7260" opacity="0.62"/>
<ellipse cx="68" cy="43" rx="11" ry="12" fill="#9a7260" opacity="0.6"/>
<ellipse cx="17" cy="43" rx="6" ry="10" fill="#9a7260" opacity="0.4"/>
<ellipse cx="58" cy="30" rx="7" ry="4.5" transform="rotate(35 58 30)" fill="#9a7260" opacity="0.5"/>
<ellipse cx="43" cy="53" rx="7" ry="6.5" fill="#7e5d4e" opacity="0.85"/>
<ellipse cx="76" cy="45" rx="6.5" ry="6.5" fill="#684d41" opacity="0.9"/>
<ellipse cx="36" cy="38" rx="15" ry="6.5" fill="#d1dfd9" opacity="0.45"/>
<ellipse cx="55" cy="40" rx="2.5" ry="10" fill="#adc5bb" opacity="0.4"/>
</g>
<rect x="0" y="0" width="84.36" height="1.2" fill="#000" opacity="0.18"/>
<rect x="0" y="82.1" width="84.36" height="1.2" fill="#000" opacity="0.18"/>
</svg>
<defs><linearGradient id="g2" x1="138" y1="0" x2="1055" y2="0" gradientUnits="userSpaceOnUse">
<stop offset="0.0000" stop-color="#2a9880"/>
<stop offset="0.0676" stop-color="#1c94a0"/>
<stop offset="0.1221" stop-color="#1890c4"/>
<stop offset="0.1658" stop-color="#2888dc"/>
<stop offset="0.1985" stop-color="#3884e4"/>
<stop offset="0.2421" stop-color="#5080e4"/>
<stop offset="0.2857" stop-color="#6878e0"/>
<stop offset="0.3239" stop-color="#7a74d8"/>
<stop offset="0.3511" stop-color="#8870cc"/>
<stop offset="0.3948" stop-color="#a070b8"/>
<stop offset="0.4384" stop-color="#ac6ca8"/>
<stop offset="0.4820" stop-color="#b06c98"/>
<stop offset="0.5256" stop-color="#b46c88"/>
<stop offset="0.5692" stop-color="#b87078"/>
<stop offset="0.6129" stop-color="#b87060"/>
<stop offset="0.6565" stop-color="#b07850"/>
<stop offset="0.7001" stop-color="#a87c48"/>
<stop offset="0.7437" stop-color="#988440"/>
<stop offset="0.7874" stop-color="#888840"/>
<stop offset="0.8310" stop-color="#788c48"/>
<stop offset="0.8746" stop-color="#609050"/>
<stop offset="0.9182" stop-color="#509460"/>
<stop offset="0.9618" stop-color="#409470"/>
<stop offset="1.0000" stop-color="#2a9880"/>
</linearGradient></defs>
<text x="547.75" y="1795.75" font-size="35" fill="#000" stroke="#000" stroke-width="0.5" textLength="97.78" lengthAdjust="spacingAndGlyphs">CAT16</text>
<line x1="140.0" y1="2127.05" x2="1055.0" y2="2127.05" stroke="#000" stroke-width="3.9" stroke-dasharray="13.9 6.18"/>
<g clip-path="url(#pc)">
<polyline points="140.00,2100.20 169.52,2106.50 199.03,2112.80 228.55,2122.30 258.06,2136.50 287.58,2152.30 317.10,2162.50 346.61,2167.90 376.13,2176.80 405.65,2189.00 435.16,2207.00 464.68,2229.00 494.19,2255.30 523.71,2285.20 553.23,2311.00 582.74,2329.00 612.26,2337.00 641.77,2337.50 671.29,2332.30 700.81,2322.00 730.32,2311.60 759.84,2287.70 789.35,2259.00 818.87,2228.50 848.39,2194.00 877.90,2165.00 907.42,2149.00 936.94,2138.20 966.45,2129.30 995.97,2118.50 1025.48,2108.70 1055.00,2100.60" fill="none" stroke="#c0574f" stroke-width="6.2" stroke-linejoin="round" stroke-linecap="butt"/>
<polyline points="140.00,2163.40 169.52,2168.10 199.03,2168.10 228.55,2167.40 258.06,2161.80 287.58,2155.00 317.10,2146.40 346.61,2137.50 376.13,2130.40 405.65,2125.90 435.16,2121.80 464.68,2117.90 494.19,2115.20 523.71,2111.60 553.23,2108.90 582.74,2107.40 612.26,2106.00 641.77,2105.50 671.29,2106.00 700.81,2108.50 730.32,2110.60 759.84,2113.10 789.35,2119.40 818.87,2121.80 848.39,2124.10 877.90,2127.90 907.42,2133.70 936.94,2137.30 966.45,2140.00 995.97,2144.50 1025.48,2149.00 1055.00,2154.30" fill="none" stroke="#5596c4" stroke-width="6.2" stroke-linejoin="round" stroke-linecap="butt"/>
<polyline points="140.00,1930.30 169.52,1958.70 199.03,2032.00 228.55,2123.90 258.06,2162.50 287.58,2152.00 317.10,2103.60 346.61,2032.10 376.13,1951.80 405.65,1876.80 435.16,1832.10 464.68,1819.60 494.19,1825.00 523.71,1849.10 553.23,1882.10 582.74,1913.20 612.26,1941.60 641.77,1974.60 671.29,2005.00 700.81,2035.40 730.32,2065.00 759.84,2087.00 789.35,2092.50 818.87,2086.00 848.39,2071.20 877.90,2055.70 907.42,2038.80 936.94,2021.80 966.45,2000.30 995.97,1975.20 1025.48,1951.90 1055.00,1934.00" fill="none" stroke="#dfa8a8" stroke-width="6.2" stroke-linejoin="round" stroke-linecap="butt"/>
<polyline points="140.00,2046.40 169.52,2040.90 199.03,2035.40 228.55,2029.80 258.06,2023.50 287.58,2017.00 317.10,2014.30 346.61,2018.80 376.13,2028.60 405.65,2039.30 435.16,2049.00 464.68,2055.40 494.19,2064.30 523.71,2081.30 553.23,2110.70 582.74,2144.50 612.26,2164.40 641.77,2179.50 671.29,2193.80 700.81,2205.80 730.32,2215.80 759.84,2221.30 789.35,2224.50 818.87,2224.00 848.39,2216.50 877.90,2207.00 907.42,2194.50 936.94,2175.80 966.45,2149.00 995.97,2113.00 1025.48,2080.90 1055.00,2059.40" fill="none" stroke="#c9dcea" stroke-width="6.2" stroke-linejoin="round" stroke-linecap="butt"/>
<polyline points="140.00,2195.00 169.52,2193.40 199.03,2188.70 228.55,2179.20 258.06,2166.60 287.58,2155.50 317.10,2142.90 346.61,2138.40 376.13,2142.00 405.65,2151.00 435.16,2159.50 464.68,2165.50 494.19,2165.50 523.71,2162.00 553.23,2158.00 582.74,2153.50 612.26,2150.70 641.77,2148.30 671.29,2147.00 700.81,2143.50 730.32,2137.70 759.84,2131.20 789.35,2127.30 818.87,2124.90 848.39,2125.70 877.90,2129.90 907.42,2136.40 936.94,2149.00 966.45,2161.50 995.97,2174.00 1025.48,2183.90 1055.00,2192.00" fill="none" stroke="#cbcbcb" stroke-width="6.2" stroke-linejoin="round" stroke-linecap="butt"/>
</g>
<line x1="140" y1="1815.10" x2="140" y2="2439.00" stroke="#000" stroke-width="3.6"/>
<line x1="123.4" y1="1816.90" x2="140" y2="1816.90" stroke="#000" stroke-width="3.6"/>
<line x1="123.4" y1="2127.05" x2="140" y2="2127.05" stroke="#000" stroke-width="3.6"/>
<line x1="123.4" y1="2437.20" x2="140" y2="2437.20" stroke="#000" stroke-width="3.6"/>
<line x1="130" y1="2065.02" x2="140" y2="2065.02" stroke="#000" stroke-width="2.9"/>
<line x1="130" y1="2002.99" x2="140" y2="2002.99" stroke="#000" stroke-width="2.9"/>
<line x1="130" y1="1940.96" x2="140" y2="1940.96" stroke="#000" stroke-width="2.9"/>
<line x1="130" y1="1878.93" x2="140" y2="1878.93" stroke="#000" stroke-width="2.9"/>
<line x1="130" y1="2189.08" x2="140" y2="2189.08" stroke="#000" stroke-width="2.9"/>
<line x1="130" y1="2251.11" x2="140" y2="2251.11" stroke="#000" stroke-width="2.9"/>
<line x1="130" y1="2313.14" x2="140" y2="2313.14" stroke="#000" stroke-width="2.9"/>
<line x1="130" y1="2375.17" x2="140" y2="2375.17" stroke="#000" stroke-width="2.9"/>
<text x="86.07" y="1829.50" font-size="35" fill="#000" stroke="#000" stroke-width="0.6" textLength="18.45" lengthAdjust="spacingAndGlyphs">1</text>
<text x="86.51" y="2139.50" font-size="35" fill="#000" stroke="#000" stroke-width="0.6" textLength="19.78" lengthAdjust="spacingAndGlyphs">0</text>
<text x="59.83" y="2449.30" font-size="35" fill="#000" stroke="#000" stroke-width="0.6" textLength="45.52" lengthAdjust="spacingAndGlyphs">−1</text>
<text transform="rotate(-90)" x="-2302.16" y="31.80" font-size="35" fill="#000" textLength="342.52" lengthAdjust="spacingAndGlyphs">Mean Δ model output</text>
<text transform="rotate(-90)" x="-2231.54" y="72.80" font-size="35" fill="#000" textLength="201.09" lengthAdjust="spacingAndGlyphs">(normalized)</text>
<text x="718.36" y="2478.30" font-size="35" fill="#000" stroke="#000" stroke-width="0" textLength="317.97" lengthAdjust="spacingAndGlyphs">normalization = 0.18</text>
<rect x="138" y="2484.70" width="917" height="28.4" fill="url(#g2)"/>
<svg x="47.20" y="2523.20" width="83.00" height="83.3" viewBox="0 0 83.00 83.3" overflow="hidden">
<rect x="0" y="0" width="84.00" height="84" fill="#c5b9bf"/>
<g filter="url(#bl)">
<path d="M12,44 C10,32 22,18 34,15 C46,12 58,16 64,26 C74,30 84,38 84,46 C84,54 76,58 66,57 C58,64 46,67 34,65 C20,63 13,55 12,44 Z" fill="#9e6f72" opacity="0.38"/>
<ellipse cx="41" cy="21" rx="13" ry="6" transform="rotate(6 41 21)" fill="#9e6f72" opacity="0.62"/>
<ellipse cx="51" cy="28" rx="4" ry="7" fill="#9e6f72" opacity="0.45"/>
<ellipse cx="35" cy="55" rx="19" ry="8.5" fill="#9e6f72" opacity="0.62"/>
<ellipse cx="68" cy="43" rx="11" ry="12" fill="#9e6f72" opacity="0.6"/>
<ellipse cx="17" cy="43" rx="6" ry="10" fill="#9e6f72" opacity="0.4"/>
<ellipse cx="58" cy="30" rx="7" ry="4.5" transform="rotate(35 58 30)" fill="#9e6f72" opacity="0.5"/>
<ellipse cx="43" cy="53" rx="7" ry="6.5" fill="#815b5d" opacity="0.85"/>
<ellipse cx="76" cy="45" rx="6.5" ry="6.5" fill="#6b4b4d" opacity="0.9"/>
<ellipse cx="36" cy="38" rx="15" ry="6.5" fill="#dfd8db" opacity="0.45"/>
<ellipse cx="55" cy="40" rx="2.5" ry="10" fill="#c5b9bf" opacity="0.4"/>
</g>
<rect x="0" y="0" width="84.00" height="1.2" fill="#000" opacity="0.18"/>
<rect x="0" y="82.1" width="84.00" height="1.2" fill="#000" opacity="0.18"/>
</svg>
<svg x="138.00" y="2523.20" width="83.96" height="83.3" viewBox="0 0 83.96 83.3" overflow="hidden">
<rect x="0" y="0" width="84.96" height="84" fill="#9bc7b9"/>
<g filter="url(#bl)">
<path d="M12,44 C10,32 22,18 34,15 C46,12 58,16 64,26 C74,30 84,38 84,46 C84,54 76,58 66,57 C58,64 46,67 34,65 C20,63 13,55 12,44 Z" fill="#98634c" opacity="0.38"/>
<ellipse cx="41" cy="21" rx="13" ry="6" transform="rotate(6 41 21)" fill="#98634c" opacity="0.62"/>
<ellipse cx="51" cy="28" rx="4" ry="7" fill="#98634c" opacity="0.45"/>
<ellipse cx="35" cy="55" rx="19" ry="8.5" fill="#98634c" opacity="0.62"/>
<ellipse cx="68" cy="43" rx="11" ry="12" fill="#98634c" opacity="0.6"/>
<ellipse cx="17" cy="43" rx="6" ry="10" fill="#98634c" opacity="0.4"/>
<ellipse cx="58" cy="30" rx="7" ry="4.5" transform="rotate(35 58 30)" fill="#98634c" opacity="0.5"/>
<ellipse cx="43" cy="53" rx="7" ry="6.5" fill="#7c513e" opacity="0.85"/>
<ellipse cx="76" cy="45" rx="6.5" ry="6.5" fill="#674333" opacity="0.9"/>
<ellipse cx="36" cy="38" rx="15" ry="6.5" fill="#c8e0d8" opacity="0.45"/>
<ellipse cx="55" cy="40" rx="2.5" ry="10" fill="#9bc7b9" opacity="0.4"/>
</g>
<rect x="0" y="0" width="84.96" height="1.2" fill="#000" opacity="0.18"/>
<rect x="0" y="82.1" width="84.96" height="1.2" fill="#000" opacity="0.18"/>
</svg>
<svg x="221.36" y="2523.20" width="83.96" height="83.3" viewBox="0 0 83.96 83.3" overflow="hidden">
<rect x="0" y="0" width="84.96" height="84" fill="#92c1dc"/>
<g filter="url(#bl)">
<path d="M12,44 C10,32 22,18 34,15 C46,12 58,16 64,26 C74,30 84,38 84,46 C84,54 76,58 66,57 C58,64 46,67 34,65 C20,63 13,55 12,44 Z" fill="#92645d" opacity="0.38"/>
<ellipse cx="41" cy="21" rx="13" ry="6" transform="rotate(6 41 21)" fill="#92645d" opacity="0.62"/>
<ellipse cx="51" cy="28" rx="4" ry="7" fill="#92645d" opacity="0.45"/>
<ellipse cx="35" cy="55" rx="19" ry="8.5" fill="#92645d" opacity="0.62"/>
<ellipse cx="68" cy="43" rx="11" ry="12" fill="#92645d" opacity="0.6"/>
<ellipse cx="17" cy="43" rx="6" ry="10" fill="#92645d" opacity="0.4"/>
<ellipse cx="58" cy="30" rx="7" ry="4.5" transform="rotate(35 58 30)" fill="#92645d" opacity="0.5"/>
<ellipse cx="43" cy="53" rx="7" ry="6.5" fill="#77524c" opacity="0.85"/>
<ellipse cx="76" cy="45" rx="6.5" ry="6.5" fill="#63443f" opacity="0.9"/>
<ellipse cx="36" cy="38" rx="15" ry="6.5" fill="#c3dceb" opacity="0.45"/>
<ellipse cx="55" cy="40" rx="2.5" ry="10" fill="#92c1dc" opacity="0.4"/>
</g>
<rect x="0" y="0" width="84.96" height="1.2" fill="#000" opacity="0.18"/>
<rect x="0" y="82.1" width="84.96" height="1.2" fill="#000" opacity="0.18"/>
</svg>
<svg x="304.73" y="2523.20" width="83.96" height="83.3" viewBox="0 0 83.96 83.3" overflow="hidden">
<rect x="0" y="0" width="84.96" height="84" fill="#9eb5ee"/>
<g filter="url(#bl)">
<path d="M12,44 C10,32 22,18 34,15 C46,12 58,16 64,26 C74,30 84,38 84,46 C84,54 76,58 66,57 C58,64 46,67 34,65 C20,63 13,55 12,44 Z" fill="#926470" opacity="0.38"/>
<ellipse cx="41" cy="21" rx="13" ry="6" transform="rotate(6 41 21)" fill="#926470" opacity="0.62"/>
<ellipse cx="51" cy="28" rx="4" ry="7" fill="#926470" opacity="0.45"/>
<ellipse cx="35" cy="55" rx="19" ry="8.5" fill="#926470" opacity="0.62"/>
<ellipse cx="68" cy="43" rx="11" ry="12" fill="#926470" opacity="0.6"/>
<ellipse cx="17" cy="43" rx="6" ry="10" fill="#926470" opacity="0.4"/>
<ellipse cx="58" cy="30" rx="7" ry="4.5" transform="rotate(35 58 30)" fill="#926470" opacity="0.5"/>
<ellipse cx="43" cy="53" rx="7" ry="6.5" fill="#77525b" opacity="0.85"/>
<ellipse cx="76" cy="45" rx="6.5" ry="6.5" fill="#63444c" opacity="0.9"/>
<ellipse cx="36" cy="38" rx="15" ry="6.5" fill="#c9d6f5" opacity="0.45"/>
<ellipse cx="55" cy="40" rx="2.5" ry="10" fill="#9eb5ee" opacity="0.4"/>
</g>
<rect x="0" y="0" width="84.96" height="1.2" fill="#000" opacity="0.18"/>
<rect x="0" y="82.1" width="84.96" height="1.2" fill="#000" opacity="0.18"/>
</svg>
<svg x="388.09" y="2523.20" width="83.96" height="83.3" viewBox="0 0 83.96 83.3" overflow="hidden">
<rect x="0" y="0" width="84.96" height="84" fill="#bbb1f0"/>
<g filter="url(#bl)">
<path d="M12,44 C10,32 22,18 34,15 C46,12 58,16 64,26 C74,30 84,38 84,46 C84,54 76,58 66,57 C58,64 46,67 34,65 C20,63 13,55 12,44 Z" fill="#985e76" opacity="0.38"/>
<ellipse cx="41" cy="21" rx="13" ry="6" transform="rotate(6 41 21)" fill="#985e76" opacity="0.62"/>
<ellipse cx="51" cy="28" rx="4" ry="7" fill="#985e76" opacity="0.45"/>
<ellipse cx="35" cy="55" rx="19" ry="8.5" fill="#985e76" opacity="0.62"/>
<ellipse cx="68" cy="43" rx="11" ry="12" fill="#985e76" opacity="0.6"/>
<ellipse cx="17" cy="43" rx="6" ry="10" fill="#985e76" opacity="0.4"/>
<ellipse cx="58" cy="30" rx="7" ry="4.5" transform="rotate(35 58 30)" fill="#985e76" opacity="0.5"/>
<ellipse cx="43" cy="53" rx="7" ry="6.5" fill="#7c4d60" opacity="0.85"/>
<ellipse cx="76" cy="45" rx="6.5" ry="6.5" fill="#673f50" opacity="0.9"/>
<ellipse cx="36" cy="38" rx="15" ry="6.5" fill="#d9d4f6" opacity="0.45"/>
<ellipse cx="55" cy="40" rx="2.5" ry="10" fill="#bbb1f0" opacity="0.4"/>
</g>
<rect x="0" y="0" width="84.96" height="1.2" fill="#000" opacity="0.18"/>
<rect x="0" y="82.1" width="84.96" height="1.2" fill="#000" opacity="0.18"/>
</svg>
<svg x="471.45" y="2523.20" width="83.96" height="83.3" viewBox="0 0 83.96 83.3" overflow="hidden">
<rect x="0" y="0" width="84.96" height="84" fill="#cdb1e4"/>
<g filter="url(#bl)">
<path d="M12,44 C10,32 22,18 34,15 C46,12 58,16 64,26 C74,30 84,38 84,46 C84,54 76,58 66,57 C58,64 46,67 34,65 C20,63 13,55 12,44 Z" fill="#9e5e6a" opacity="0.38"/>
<ellipse cx="41" cy="21" rx="13" ry="6" transform="rotate(6 41 21)" fill="#9e5e6a" opacity="0.62"/>
<ellipse cx="51" cy="28" rx="4" ry="7" fill="#9e5e6a" opacity="0.45"/>
<ellipse cx="35" cy="55" rx="19" ry="8.5" fill="#9e5e6a" opacity="0.62"/>
<ellipse cx="68" cy="43" rx="11" ry="12" fill="#9e5e6a" opacity="0.6"/>
<ellipse cx="17" cy="43" rx="6" ry="10" fill="#9e5e6a" opacity="0.4"/>
<ellipse cx="58" cy="30" rx="7" ry="4.5" transform="rotate(35 58 30)" fill="#9e5e6a" opacity="0.5"/>
<ellipse cx="43" cy="53" rx="7" ry="6.5" fill="#814d56" opacity="0.85"/>
<ellipse cx="76" cy="45" rx="6.5" ry="6.5" fill="#6b3f48" opacity="0.9"/>
<ellipse cx="36" cy="38" rx="15" ry="6.5" fill="#e3d4f0" opacity="0.45"/>
<ellipse cx="55" cy="40" rx="2.5" ry="10" fill="#cdb1e4" opacity="0.4"/>
</g>
<rect x="0" y="0" width="84.96" height="1.2" fill="#000" opacity="0.18"/>
<rect x="0" y="82.1" width="84.96" height="1.2" fill="#000" opacity="0.18"/>
</svg>
<svg x="554.82" y="2523.20" width="83.96" height="83.3" viewBox="0 0 83.96 83.3" overflow="hidden">
<rect x="0" y="0" width="84.96" height="84" fill="#e0b3d1"/>
<g filter="url(#bl)">
<path d="M12,44 C10,32 22,18 34,15 C46,12 58,16 64,26 C74,30 84,38 84,46 C84,54 76,58 66,57 C58,64 46,67 34,65 C20,63 13,55 12,44 Z" fill="#a45e64" opacity="0.38"/>
<ellipse cx="41" cy="21" rx="13" ry="6" transform="rotate(6 41 21)" fill="#a45e64" opacity="0.62"/>
<ellipse cx="51" cy="28" rx="4" ry="7" fill="#a45e64" opacity="0.45"/>
<ellipse cx="35" cy="55" rx="19" ry="8.5" fill="#a45e64" opacity="0.62"/>
<ellipse cx="68" cy="43" rx="11" ry="12" fill="#a45e64" opacity="0.6"/>
<ellipse cx="17" cy="43" rx="6" ry="10" fill="#a45e64" opacity="0.4"/>
<ellipse cx="58" cy="30" rx="7" ry="4.5" transform="rotate(35 58 30)" fill="#a45e64" opacity="0.5"/>
<ellipse cx="43" cy="53" rx="7" ry="6.5" fill="#864d52" opacity="0.85"/>
<ellipse cx="76" cy="45" rx="6.5" ry="6.5" fill="#6f3f44" opacity="0.9"/>
<ellipse cx="36" cy="38" rx="15" ry="6.5" fill="#edd5e5" opacity="0.45"/>
<ellipse cx="55" cy="40" rx="2.5" ry="10" fill="#e0b3d1" opacity="0.4"/>
</g>
<rect x="0" y="0" width="84.96" height="1.2" fill="#000" opacity="0.18"/>
<rect x="0" y="82.1" width="84.96" height="1.2" fill="#000" opacity="0.18"/>
</svg>
<svg x="638.18" y="2523.20" width="83.96" height="83.3" viewBox="0 0 83.96 83.3" overflow="hidden">
<rect x="0" y="0" width="84.96" height="84" fill="#e1b5bb"/>
<g filter="url(#bl)">
<path d="M12,44 C10,32 22,18 34,15 C46,12 58,16 64,26 C74,30 84,38 84,46 C84,54 76,58 66,57 C58,64 46,67 34,65 C20,63 13,55 12,44 Z" fill="#a35d52" opacity="0.38"/>
<ellipse cx="41" cy="21" rx="13" ry="6" transform="rotate(6 41 21)" fill="#a35d52" opacity="0.62"/>
<ellipse cx="51" cy="28" rx="4" ry="7" fill="#a35d52" opacity="0.45"/>
<ellipse cx="35" cy="55" rx="19" ry="8.5" fill="#a35d52" opacity="0.62"/>
<ellipse cx="68" cy="43" rx="11" ry="12" fill="#a35d52" opacity="0.6"/>
<ellipse cx="17" cy="43" rx="6" ry="10" fill="#a35d52" opacity="0.4"/>
<ellipse cx="58" cy="30" rx="7" ry="4.5" transform="rotate(35 58 30)" fill="#a35d52" opacity="0.5"/>
<ellipse cx="43" cy="53" rx="7" ry="6.5" fill="#854c43" opacity="0.85"/>
<ellipse cx="76" cy="45" rx="6.5" ry="6.5" fill="#6e3f37" opacity="0.9"/>
<ellipse cx="36" cy="38" rx="15" ry="6.5" fill="#eed6d9" opacity="0.45"/>
<ellipse cx="55" cy="40" rx="2.5" ry="10" fill="#e1b5bb" opacity="0.4"/>
</g>
<rect x="0" y="0" width="84.96" height="1.2" fill="#000" opacity="0.18"/>
<rect x="0" y="82.1" width="84.96" height="1.2" fill="#000" opacity="0.18"/>
</svg>
<svg x="721.55" y="2523.20" width="83.96" height="83.3" viewBox="0 0 83.96 83.3" overflow="hidden">
<rect x="0" y="0" width="84.96" height="84" fill="#ddbbac"/>
<g filter="url(#bl)">
<path d="M12,44 C10,32 22,18 34,15 C46,12 58,16 64,26 C74,30 84,38 84,46 C84,54 76,58 66,57 C58,64 46,67 34,65 C20,63 13,55 12,44 Z" fill="#a35d4c" opacity="0.38"/>
<ellipse cx="41" cy="21" rx="13" ry="6" transform="rotate(6 41 21)" fill="#a35d4c" opacity="0.62"/>
<ellipse cx="51" cy="28" rx="4" ry="7" fill="#a35d4c" opacity="0.45"/>
<ellipse cx="35" cy="55" rx="19" ry="8.5" fill="#a35d4c" opacity="0.62"/>
<ellipse cx="68" cy="43" rx="11" ry="12" fill="#a35d4c" opacity="0.6"/>
<ellipse cx="17" cy="43" rx="6" ry="10" fill="#a35d4c" opacity="0.4"/>
<ellipse cx="58" cy="30" rx="7" ry="4.5" transform="rotate(35 58 30)" fill="#a35d4c" opacity="0.5"/>
<ellipse cx="43" cy="53" rx="7" ry="6.5" fill="#854c3e" opacity="0.85"/>
<ellipse cx="76" cy="45" rx="6.5" ry="6.5" fill="#6e3f33" opacity="0.9"/>
<ellipse cx="36" cy="38" rx="15" ry="6.5" fill="#ecd9d1" opacity="0.45"/>
<ellipse cx="55" cy="40" rx="2.5" ry="10" fill="#ddbbac" opacity="0.4"/>
</g>
<rect x="0" y="0" width="84.96" height="1.2" fill="#000" opacity="0.18"/>
<rect x="0" y="82.1" width="84.96" height="1.2" fill="#000" opacity="0.18"/>
</svg>
<svg x="804.91" y="2523.20" width="83.96" height="83.3" viewBox="0 0 83.96 83.3" overflow="hidden">
<rect x="0" y="0" width="84.96" height="84" fill="#d1beaa"/>
<g filter="url(#bl)">
<path d="M12,44 C10,32 22,18 34,15 C46,12 58,16 64,26 C74,30 84,38 84,46 C84,54 76,58 66,57 C58,64 46,67 34,65 C20,63 13,55 12,44 Z" fill="#a56b4f" opacity="0.38"/>
<ellipse cx="41" cy="21" rx="13" ry="6" transform="rotate(6 41 21)" fill="#a56b4f" opacity="0.62"/>
<ellipse cx="51" cy="28" rx="4" ry="7" fill="#a56b4f" opacity="0.45"/>
<ellipse cx="35" cy="55" rx="19" ry="8.5" fill="#a56b4f" opacity="0.62"/>
<ellipse cx="68" cy="43" rx="11" ry="12" fill="#a56b4f" opacity="0.6"/>
<ellipse cx="17" cy="43" rx="6" ry="10" fill="#a56b4f" opacity="0.4"/>
<ellipse cx="58" cy="30" rx="7" ry="4.5" transform="rotate(35 58 30)" fill="#a56b4f" opacity="0.5"/>
<ellipse cx="43" cy="53" rx="7" ry="6.5" fill="#875740" opacity="0.85"/>
<ellipse cx="76" cy="45" rx="6.5" ry="6.5" fill="#704835" opacity="0.9"/>
<ellipse cx="36" cy="38" rx="15" ry="6.5" fill="#e5dbd0" opacity="0.45"/>
<ellipse cx="55" cy="40" rx="2.5" ry="10" fill="#d1beaa" opacity="0.4"/>
</g>
<rect x="0" y="0" width="84.96" height="1.2" fill="#000" opacity="0.18"/>
<rect x="0" y="82.1" width="84.96" height="1.2" fill="#000" opacity="0.18"/>
</svg>
<svg x="888.27" y="2523.20" width="83.96" height="83.3" viewBox="0 0 83.96 83.3" overflow="hidden">
<rect x="0" y="0" width="84.96" height="84" fill="#bec5a8"/>
<g filter="url(#bl)">
<path d="M12,44 C10,32 22,18 34,15 C46,12 58,16 64,26 C74,30 84,38 84,46 C84,54 76,58 66,57 C58,64 46,67 34,65 C20,63 13,55 12,44 Z" fill="#9a714f" opacity="0.38"/>
<ellipse cx="41" cy="21" rx="13" ry="6" transform="rotate(6 41 21)" fill="#9a714f" opacity="0.62"/>
<ellipse cx="51" cy="28" rx="4" ry="7" fill="#9a714f" opacity="0.45"/>
<ellipse cx="35" cy="55" rx="19" ry="8.5" fill="#9a714f" opacity="0.62"/>
<ellipse cx="68" cy="43" rx="11" ry="12" fill="#9a714f" opacity="0.6"/>
<ellipse cx="17" cy="43" rx="6" ry="10" fill="#9a714f" opacity="0.4"/>
<ellipse cx="58" cy="30" rx="7" ry="4.5" transform="rotate(35 58 30)" fill="#9a714f" opacity="0.5"/>
<ellipse cx="43" cy="53" rx="7" ry="6.5" fill="#7e5c40" opacity="0.85"/>
<ellipse cx="76" cy="45" rx="6.5" ry="6.5" fill="#684c35" opacity="0.9"/>
<ellipse cx="36" cy="38" rx="15" ry="6.5" fill="#dbdfcf" opacity="0.45"/>
<ellipse cx="55" cy="40" rx="2.5" ry="10" fill="#bec5a8" opacity="0.4"/>
</g>
<rect x="0" y="0" width="84.96" height="1.2" fill="#000" opacity="0.18"/>
<rect x="0" y="82.1" width="84.96" height="1.2" fill="#000" opacity="0.18"/>
</svg>
<svg x="971.64" y="2523.20" width="83.36" height="83.3" viewBox="0 0 83.36 83.3" overflow="hidden">
<rect x="0" y="0" width="84.36" height="84" fill="#a7c9b6"/>
<g filter="url(#bl)">
<path d="M12,44 C10,32 22,18 34,15 C46,12 58,16 64,26 C74,30 84,38 84,46 C84,54 76,58 66,57 C58,64 46,67 34,65 C20,63 13,55 12,44 Z" fill="#93715a" opacity="0.38"/>
<ellipse cx="41" cy="21" rx="13" ry="6" transform="rotate(6 41 21)" fill="#93715a" opacity="0.62"/>
<ellipse cx="51" cy="28" rx="4" ry="7" fill="#93715a" opacity="0.45"/>
<ellipse cx="35" cy="55" rx="19" ry="8.5" fill="#93715a" opacity="0.62"/>
<ellipse cx="68" cy="43" rx="11" ry="12" fill="#93715a" opacity="0.6"/>
<ellipse cx="17" cy="43" rx="6" ry="10" fill="#93715a" opacity="0.4"/>
<ellipse cx="58" cy="30" rx="7" ry="4.5" transform="rotate(35 58 30)" fill="#93715a" opacity="0.5"/>
<ellipse cx="43" cy="53" rx="7" ry="6.5" fill="#785c49" opacity="0.85"/>
<ellipse cx="76" cy="45" rx="6.5" ry="6.5" fill="#634c3d" opacity="0.9"/>
<ellipse cx="36" cy="38" rx="15" ry="6.5" fill="#cee1d6" opacity="0.45"/>
<ellipse cx="55" cy="40" rx="2.5" ry="10" fill="#a7c9b6" opacity="0.4"/>
</g>
<rect x="0" y="0" width="84.36" height="1.2" fill="#000" opacity="0.18"/>
<rect x="0" y="82.1" width="84.36" height="1.2" fill="#000" opacity="0.18"/>
</svg>
<text x="161.89" y="188.30" font-size="35" fill="#d0a0a6" stroke="#d0a0a6" stroke-width="0" textLength="140.71" lengthAdjust="spacingAndGlyphs">Scanoma</text>
<text x="234.80" y="310.20" font-size="35" fill="#c2d0dc" stroke="#c2d0dc" stroke-width="0" textLength="79.67" lengthAdjust="spacingAndGlyphs">SSCD</text>
<text x="696.45" y="333.40" font-size="35" fill="#5888aa" stroke="#5888aa" stroke-width="0" textLength="185.72" lengthAdjust="spacingAndGlyphs">ModelDerm</text>
<text x="191.90" y="489.90" font-size="35" fill="#a6a6a6" stroke="#a6a6a6" stroke-width="0" textLength="143.26" lengthAdjust="spacingAndGlyphs">SIIM-ISIC</text>
<text x="629.73" y="608.30" font-size="35" fill="#ac585a" stroke="#ac585a" stroke-width="0" textLength="169.38" lengthAdjust="spacingAndGlyphs">DeepDerm</text>
<text x="648.39" y="1029.90" font-size="35" fill="#d0a0a6" stroke="#d0a0a6" stroke-width="0" textLength="140.41" lengthAdjust="spacingAndGlyphs">Scanoma</text>
<text x="232.27" y="1149.30" font-size="35" fill="#c2d0dc" stroke="#c2d0dc" stroke-width="0" textLength="81.12" lengthAdjust="spacingAndGlyphs">SSCD</text>
<text x="502.06" y="1171.80" font-size="35" fill="#5888aa" stroke="#5888aa" stroke-width="0" textLength="185.10" lengthAdjust="spacingAndGlyphs">ModelDerm</text>
<text x="165.71" y="1338.40" font-size="35" fill="#a6a6a6" stroke="#a6a6a6" stroke-width="0" textLength="142.44" lengthAdjust="spacingAndGlyphs">SIIM-ISIC</text>
<text x="764.03" y="1508.00" font-size="35" fill="#ac585a" stroke="#ac585a" stroke-width="0" textLength="169.38" lengthAdjust="spacingAndGlyphs">DeepDerm</text>
<text x="629.30" y="1942.30" font-size="35" fill="#d0a0a6" stroke="#d0a0a6" stroke-width="0" textLength="139.70" lengthAdjust="spacingAndGlyphs">Scanoma</text>
<text x="254.60" y="2003.80" font-size="35" fill="#c2d0dc" stroke="#c2d0dc" stroke-width="0" textLength="79.67" lengthAdjust="spacingAndGlyphs">SSCD</text>
<text x="539.96" y="2084.80" font-size="35" fill="#5888aa" stroke="#5888aa" stroke-width="0" textLength="185.41" lengthAdjust="spacingAndGlyphs">ModelDerm</text>
<text x="443.30" y="2203.50" font-size="35" fill="#a6a6a6" stroke="#a6a6a6" stroke-width="0" textLength="142.95" lengthAdjust="spacingAndGlyphs">SIIM-ISIC</text>
<text x="655.63" y="2367.00" font-size="35" fill="#ac585a" stroke="#ac585a" stroke-width="0" textLength="169.38" lengthAdjust="spacingAndGlyphs">DeepDerm</text>
<line x1="408.2" y1="116.1" x2="408.2" y2="167.0" stroke="#d09494" stroke-width="3.2" stroke-dasharray="7.6 6.7"/>
<line x1="448.2" y1="332.3" x2="448.2" y2="382.3" stroke="#5a88a8" stroke-width="3.2" stroke-dasharray="7.6 6.7"/>
<line x1="507.6" y1="339.8" x2="507.6" y2="390.3" stroke="#b8c8d6" stroke-width="3.2" stroke-dasharray="7.6 6.7"/>
<line x1="613.0" y1="380.2" x2="613.0" y2="429.2" stroke="#a0a0a4" stroke-width="3.2" stroke-dasharray="7.6 6.7"/>
<line x1="614.3" y1="565.0" x2="614.3" y2="615.2" stroke="#b05050" stroke-width="3.2" stroke-dasharray="7.6 6.7"/>
</svg>
</body></html>
